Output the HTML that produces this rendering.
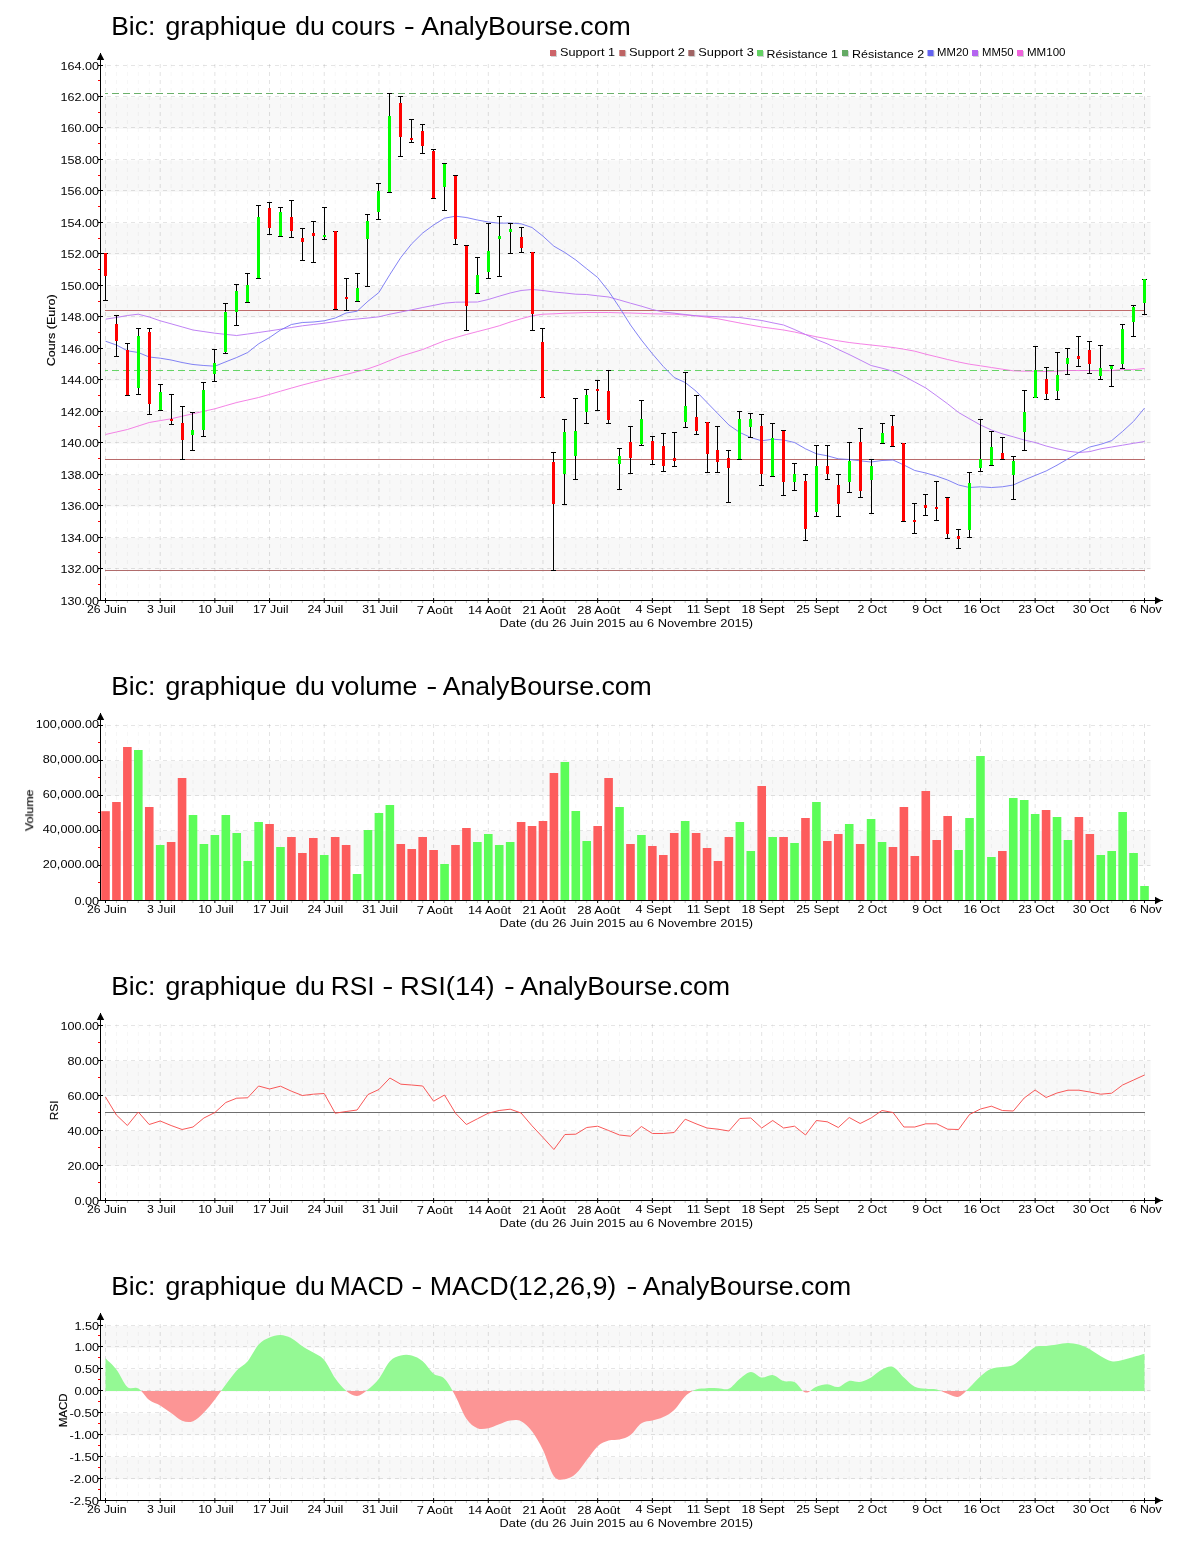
<!DOCTYPE html>
<html><head><meta charset="utf-8"><title>Bic</title><style>html,body{margin:0;padding:0;background:#fff}svg{display:block}text{font-family:"Liberation Sans",sans-serif}</style></head><body>
<svg width="1200" height="1550" viewBox="0 0 1200 1550" font-family="'Liberation Sans', sans-serif" fill="#000">
<rect width="1200" height="1550" fill="#fff"/>
<g opacity="0.999">
<rect x="101" y="538.06" width="1049.5" height="31.47" fill="#f8f8f8"/>
<rect x="101" y="475.12" width="1049.5" height="31.47" fill="#f8f8f8"/>
<rect x="101" y="412.18" width="1049.5" height="31.47" fill="#f8f8f8"/>
<rect x="101" y="349.24" width="1049.5" height="31.47" fill="#f8f8f8"/>
<rect x="101" y="286.29" width="1049.5" height="31.47" fill="#f8f8f8"/>
<rect x="101" y="223.35" width="1049.5" height="31.47" fill="#f8f8f8"/>
<rect x="101" y="160.41" width="1049.5" height="31.47" fill="#f8f8f8"/>
<rect x="101" y="97.47" width="1049.5" height="31.47" fill="#f8f8f8"/>
<line x1="107" y1="65.5" x2="1150.5" y2="65.5" stroke="rgba(0,0,0,0.105)" stroke-dasharray="4 4"/>
<line x1="107" y1="96.5" x2="1150.5" y2="96.5" stroke="rgba(0,0,0,0.105)" stroke-dasharray="4 4"/>
<line x1="107" y1="127.5" x2="1150.5" y2="127.5" stroke="rgba(0,0,0,0.105)" stroke-dasharray="4 4"/>
<line x1="107" y1="159.5" x2="1150.5" y2="159.5" stroke="rgba(0,0,0,0.105)" stroke-dasharray="4 4"/>
<line x1="107" y1="190.5" x2="1150.5" y2="190.5" stroke="rgba(0,0,0,0.105)" stroke-dasharray="4 4"/>
<line x1="107" y1="222.5" x2="1150.5" y2="222.5" stroke="rgba(0,0,0,0.105)" stroke-dasharray="4 4"/>
<line x1="107" y1="253.5" x2="1150.5" y2="253.5" stroke="rgba(0,0,0,0.105)" stroke-dasharray="4 4"/>
<line x1="107" y1="285.5" x2="1150.5" y2="285.5" stroke="rgba(0,0,0,0.105)" stroke-dasharray="4 4"/>
<line x1="107" y1="316.5" x2="1150.5" y2="316.5" stroke="rgba(0,0,0,0.105)" stroke-dasharray="4 4"/>
<line x1="107" y1="348.5" x2="1150.5" y2="348.5" stroke="rgba(0,0,0,0.105)" stroke-dasharray="4 4"/>
<line x1="107" y1="379.5" x2="1150.5" y2="379.5" stroke="rgba(0,0,0,0.105)" stroke-dasharray="4 4"/>
<line x1="107" y1="411.5" x2="1150.5" y2="411.5" stroke="rgba(0,0,0,0.105)" stroke-dasharray="4 4"/>
<line x1="107" y1="442.5" x2="1150.5" y2="442.5" stroke="rgba(0,0,0,0.105)" stroke-dasharray="4 4"/>
<line x1="107" y1="474.5" x2="1150.5" y2="474.5" stroke="rgba(0,0,0,0.105)" stroke-dasharray="4 4"/>
<line x1="107" y1="505.5" x2="1150.5" y2="505.5" stroke="rgba(0,0,0,0.105)" stroke-dasharray="4 4"/>
<line x1="107" y1="537.5" x2="1150.5" y2="537.5" stroke="rgba(0,0,0,0.105)" stroke-dasharray="4 4"/>
<line x1="107" y1="568.5" x2="1150.5" y2="568.5" stroke="rgba(0,0,0,0.105)" stroke-dasharray="4 4"/>
<line x1="105.50" y1="64" x2="105.50" y2="600" stroke="rgba(0,0,0,0.12)" stroke-dasharray="4 4"/>
<line x1="116.44" y1="64" x2="116.44" y2="600" stroke="rgba(0,0,0,0.042)" stroke-dasharray="4 4"/>
<line x1="127.37" y1="64" x2="127.37" y2="600" stroke="rgba(0,0,0,0.042)" stroke-dasharray="4 4"/>
<line x1="138.31" y1="64" x2="138.31" y2="600" stroke="rgba(0,0,0,0.042)" stroke-dasharray="4 4"/>
<line x1="149.25" y1="64" x2="149.25" y2="600" stroke="rgba(0,0,0,0.042)" stroke-dasharray="4 4"/>
<line x1="160.19" y1="64" x2="160.19" y2="600" stroke="rgba(0,0,0,0.12)" stroke-dasharray="4 4"/>
<line x1="171.12" y1="64" x2="171.12" y2="600" stroke="rgba(0,0,0,0.042)" stroke-dasharray="4 4"/>
<line x1="182.06" y1="64" x2="182.06" y2="600" stroke="rgba(0,0,0,0.042)" stroke-dasharray="4 4"/>
<line x1="193.00" y1="64" x2="193.00" y2="600" stroke="rgba(0,0,0,0.042)" stroke-dasharray="4 4"/>
<line x1="203.93" y1="64" x2="203.93" y2="600" stroke="rgba(0,0,0,0.042)" stroke-dasharray="4 4"/>
<line x1="214.87" y1="64" x2="214.87" y2="600" stroke="rgba(0,0,0,0.12)" stroke-dasharray="4 4"/>
<line x1="225.81" y1="64" x2="225.81" y2="600" stroke="rgba(0,0,0,0.042)" stroke-dasharray="4 4"/>
<line x1="236.74" y1="64" x2="236.74" y2="600" stroke="rgba(0,0,0,0.042)" stroke-dasharray="4 4"/>
<line x1="247.68" y1="64" x2="247.68" y2="600" stroke="rgba(0,0,0,0.042)" stroke-dasharray="4 4"/>
<line x1="258.62" y1="64" x2="258.62" y2="600" stroke="rgba(0,0,0,0.042)" stroke-dasharray="4 4"/>
<line x1="269.55" y1="64" x2="269.55" y2="600" stroke="rgba(0,0,0,0.12)" stroke-dasharray="4 4"/>
<line x1="280.49" y1="64" x2="280.49" y2="600" stroke="rgba(0,0,0,0.042)" stroke-dasharray="4 4"/>
<line x1="291.43" y1="64" x2="291.43" y2="600" stroke="rgba(0,0,0,0.042)" stroke-dasharray="4 4"/>
<line x1="302.37" y1="64" x2="302.37" y2="600" stroke="rgba(0,0,0,0.042)" stroke-dasharray="4 4"/>
<line x1="313.30" y1="64" x2="313.30" y2="600" stroke="rgba(0,0,0,0.042)" stroke-dasharray="4 4"/>
<line x1="324.24" y1="64" x2="324.24" y2="600" stroke="rgba(0,0,0,0.12)" stroke-dasharray="4 4"/>
<line x1="335.18" y1="64" x2="335.18" y2="600" stroke="rgba(0,0,0,0.042)" stroke-dasharray="4 4"/>
<line x1="346.11" y1="64" x2="346.11" y2="600" stroke="rgba(0,0,0,0.042)" stroke-dasharray="4 4"/>
<line x1="357.05" y1="64" x2="357.05" y2="600" stroke="rgba(0,0,0,0.042)" stroke-dasharray="4 4"/>
<line x1="367.99" y1="64" x2="367.99" y2="600" stroke="rgba(0,0,0,0.042)" stroke-dasharray="4 4"/>
<line x1="378.93" y1="64" x2="378.93" y2="600" stroke="rgba(0,0,0,0.12)" stroke-dasharray="4 4"/>
<line x1="389.86" y1="64" x2="389.86" y2="600" stroke="rgba(0,0,0,0.042)" stroke-dasharray="4 4"/>
<line x1="400.80" y1="64" x2="400.80" y2="600" stroke="rgba(0,0,0,0.042)" stroke-dasharray="4 4"/>
<line x1="411.74" y1="64" x2="411.74" y2="600" stroke="rgba(0,0,0,0.042)" stroke-dasharray="4 4"/>
<line x1="422.67" y1="64" x2="422.67" y2="600" stroke="rgba(0,0,0,0.042)" stroke-dasharray="4 4"/>
<line x1="433.61" y1="64" x2="433.61" y2="600" stroke="rgba(0,0,0,0.12)" stroke-dasharray="4 4"/>
<line x1="444.55" y1="64" x2="444.55" y2="600" stroke="rgba(0,0,0,0.042)" stroke-dasharray="4 4"/>
<line x1="455.48" y1="64" x2="455.48" y2="600" stroke="rgba(0,0,0,0.042)" stroke-dasharray="4 4"/>
<line x1="466.42" y1="64" x2="466.42" y2="600" stroke="rgba(0,0,0,0.042)" stroke-dasharray="4 4"/>
<line x1="477.36" y1="64" x2="477.36" y2="600" stroke="rgba(0,0,0,0.042)" stroke-dasharray="4 4"/>
<line x1="488.29" y1="64" x2="488.29" y2="600" stroke="rgba(0,0,0,0.12)" stroke-dasharray="4 4"/>
<line x1="499.23" y1="64" x2="499.23" y2="600" stroke="rgba(0,0,0,0.042)" stroke-dasharray="4 4"/>
<line x1="510.17" y1="64" x2="510.17" y2="600" stroke="rgba(0,0,0,0.042)" stroke-dasharray="4 4"/>
<line x1="521.11" y1="64" x2="521.11" y2="600" stroke="rgba(0,0,0,0.042)" stroke-dasharray="4 4"/>
<line x1="532.04" y1="64" x2="532.04" y2="600" stroke="rgba(0,0,0,0.042)" stroke-dasharray="4 4"/>
<line x1="542.98" y1="64" x2="542.98" y2="600" stroke="rgba(0,0,0,0.12)" stroke-dasharray="4 4"/>
<line x1="553.92" y1="64" x2="553.92" y2="600" stroke="rgba(0,0,0,0.042)" stroke-dasharray="4 4"/>
<line x1="564.85" y1="64" x2="564.85" y2="600" stroke="rgba(0,0,0,0.042)" stroke-dasharray="4 4"/>
<line x1="575.79" y1="64" x2="575.79" y2="600" stroke="rgba(0,0,0,0.042)" stroke-dasharray="4 4"/>
<line x1="586.73" y1="64" x2="586.73" y2="600" stroke="rgba(0,0,0,0.042)" stroke-dasharray="4 4"/>
<line x1="597.66" y1="64" x2="597.66" y2="600" stroke="rgba(0,0,0,0.12)" stroke-dasharray="4 4"/>
<line x1="608.60" y1="64" x2="608.60" y2="600" stroke="rgba(0,0,0,0.042)" stroke-dasharray="4 4"/>
<line x1="619.54" y1="64" x2="619.54" y2="600" stroke="rgba(0,0,0,0.042)" stroke-dasharray="4 4"/>
<line x1="630.48" y1="64" x2="630.48" y2="600" stroke="rgba(0,0,0,0.042)" stroke-dasharray="4 4"/>
<line x1="641.41" y1="64" x2="641.41" y2="600" stroke="rgba(0,0,0,0.042)" stroke-dasharray="4 4"/>
<line x1="652.35" y1="64" x2="652.35" y2="600" stroke="rgba(0,0,0,0.12)" stroke-dasharray="4 4"/>
<line x1="663.29" y1="64" x2="663.29" y2="600" stroke="rgba(0,0,0,0.042)" stroke-dasharray="4 4"/>
<line x1="674.22" y1="64" x2="674.22" y2="600" stroke="rgba(0,0,0,0.042)" stroke-dasharray="4 4"/>
<line x1="685.16" y1="64" x2="685.16" y2="600" stroke="rgba(0,0,0,0.042)" stroke-dasharray="4 4"/>
<line x1="696.10" y1="64" x2="696.10" y2="600" stroke="rgba(0,0,0,0.042)" stroke-dasharray="4 4"/>
<line x1="707.03" y1="64" x2="707.03" y2="600" stroke="rgba(0,0,0,0.12)" stroke-dasharray="4 4"/>
<line x1="717.97" y1="64" x2="717.97" y2="600" stroke="rgba(0,0,0,0.042)" stroke-dasharray="4 4"/>
<line x1="728.91" y1="64" x2="728.91" y2="600" stroke="rgba(0,0,0,0.042)" stroke-dasharray="4 4"/>
<line x1="739.85" y1="64" x2="739.85" y2="600" stroke="rgba(0,0,0,0.042)" stroke-dasharray="4 4"/>
<line x1="750.78" y1="64" x2="750.78" y2="600" stroke="rgba(0,0,0,0.042)" stroke-dasharray="4 4"/>
<line x1="761.72" y1="64" x2="761.72" y2="600" stroke="rgba(0,0,0,0.12)" stroke-dasharray="4 4"/>
<line x1="772.66" y1="64" x2="772.66" y2="600" stroke="rgba(0,0,0,0.042)" stroke-dasharray="4 4"/>
<line x1="783.59" y1="64" x2="783.59" y2="600" stroke="rgba(0,0,0,0.042)" stroke-dasharray="4 4"/>
<line x1="794.53" y1="64" x2="794.53" y2="600" stroke="rgba(0,0,0,0.042)" stroke-dasharray="4 4"/>
<line x1="805.47" y1="64" x2="805.47" y2="600" stroke="rgba(0,0,0,0.042)" stroke-dasharray="4 4"/>
<line x1="816.40" y1="64" x2="816.40" y2="600" stroke="rgba(0,0,0,0.12)" stroke-dasharray="4 4"/>
<line x1="827.34" y1="64" x2="827.34" y2="600" stroke="rgba(0,0,0,0.042)" stroke-dasharray="4 4"/>
<line x1="838.28" y1="64" x2="838.28" y2="600" stroke="rgba(0,0,0,0.042)" stroke-dasharray="4 4"/>
<line x1="849.22" y1="64" x2="849.22" y2="600" stroke="rgba(0,0,0,0.042)" stroke-dasharray="4 4"/>
<line x1="860.15" y1="64" x2="860.15" y2="600" stroke="rgba(0,0,0,0.042)" stroke-dasharray="4 4"/>
<line x1="871.09" y1="64" x2="871.09" y2="600" stroke="rgba(0,0,0,0.12)" stroke-dasharray="4 4"/>
<line x1="882.03" y1="64" x2="882.03" y2="600" stroke="rgba(0,0,0,0.042)" stroke-dasharray="4 4"/>
<line x1="892.96" y1="64" x2="892.96" y2="600" stroke="rgba(0,0,0,0.042)" stroke-dasharray="4 4"/>
<line x1="903.90" y1="64" x2="903.90" y2="600" stroke="rgba(0,0,0,0.042)" stroke-dasharray="4 4"/>
<line x1="914.84" y1="64" x2="914.84" y2="600" stroke="rgba(0,0,0,0.042)" stroke-dasharray="4 4"/>
<line x1="925.77" y1="64" x2="925.77" y2="600" stroke="rgba(0,0,0,0.12)" stroke-dasharray="4 4"/>
<line x1="936.71" y1="64" x2="936.71" y2="600" stroke="rgba(0,0,0,0.042)" stroke-dasharray="4 4"/>
<line x1="947.65" y1="64" x2="947.65" y2="600" stroke="rgba(0,0,0,0.042)" stroke-dasharray="4 4"/>
<line x1="958.59" y1="64" x2="958.59" y2="600" stroke="rgba(0,0,0,0.042)" stroke-dasharray="4 4"/>
<line x1="969.52" y1="64" x2="969.52" y2="600" stroke="rgba(0,0,0,0.042)" stroke-dasharray="4 4"/>
<line x1="980.46" y1="64" x2="980.46" y2="600" stroke="rgba(0,0,0,0.12)" stroke-dasharray="4 4"/>
<line x1="991.40" y1="64" x2="991.40" y2="600" stroke="rgba(0,0,0,0.042)" stroke-dasharray="4 4"/>
<line x1="1002.33" y1="64" x2="1002.33" y2="600" stroke="rgba(0,0,0,0.042)" stroke-dasharray="4 4"/>
<line x1="1013.27" y1="64" x2="1013.27" y2="600" stroke="rgba(0,0,0,0.042)" stroke-dasharray="4 4"/>
<line x1="1024.21" y1="64" x2="1024.21" y2="600" stroke="rgba(0,0,0,0.042)" stroke-dasharray="4 4"/>
<line x1="1035.14" y1="64" x2="1035.14" y2="600" stroke="rgba(0,0,0,0.12)" stroke-dasharray="4 4"/>
<line x1="1046.08" y1="64" x2="1046.08" y2="600" stroke="rgba(0,0,0,0.042)" stroke-dasharray="4 4"/>
<line x1="1057.02" y1="64" x2="1057.02" y2="600" stroke="rgba(0,0,0,0.042)" stroke-dasharray="4 4"/>
<line x1="1067.96" y1="64" x2="1067.96" y2="600" stroke="rgba(0,0,0,0.042)" stroke-dasharray="4 4"/>
<line x1="1078.89" y1="64" x2="1078.89" y2="600" stroke="rgba(0,0,0,0.042)" stroke-dasharray="4 4"/>
<line x1="1089.83" y1="64" x2="1089.83" y2="600" stroke="rgba(0,0,0,0.12)" stroke-dasharray="4 4"/>
<line x1="1100.77" y1="64" x2="1100.77" y2="600" stroke="rgba(0,0,0,0.042)" stroke-dasharray="4 4"/>
<line x1="1111.70" y1="64" x2="1111.70" y2="600" stroke="rgba(0,0,0,0.042)" stroke-dasharray="4 4"/>
<line x1="1122.64" y1="64" x2="1122.64" y2="600" stroke="rgba(0,0,0,0.042)" stroke-dasharray="4 4"/>
<line x1="1133.58" y1="64" x2="1133.58" y2="600" stroke="rgba(0,0,0,0.042)" stroke-dasharray="4 4"/>
<line x1="1144.51" y1="64" x2="1144.51" y2="600" stroke="rgba(0,0,0,0.12)" stroke-dasharray="4 4"/>
<line x1="100.5" y1="53" x2="100.5" y2="601" stroke="#000"/>
<path d="M100.5 52.7 L96.8 60 L104.2 60 Z" fill="#000"/>
<line x1="100" y1="600.5" x2="1163" y2="600.5" stroke="#000"/>
<path d="M1162 600.5 L1155 596.8 L1155 604.2 Z" fill="#000"/>
<line x1="98" y1="65.5" x2="103" y2="65.5" stroke="#000"/>
<line x1="98" y1="80.5" x2="100" y2="80.5" stroke="#f00"/>
<text x="99.10" y="69.90" font-size="11.15" text-anchor="end" textLength="38.5" lengthAdjust="spacingAndGlyphs">164.00</text>
<line x1="98" y1="96.5" x2="103" y2="96.5" stroke="#000"/>
<line x1="98" y1="112.5" x2="100" y2="112.5" stroke="#f00"/>
<text x="99.10" y="100.90" font-size="11.15" text-anchor="end" textLength="38.5" lengthAdjust="spacingAndGlyphs">162.00</text>
<line x1="98" y1="127.5" x2="103" y2="127.5" stroke="#000"/>
<line x1="98" y1="143.5" x2="100" y2="143.5" stroke="#f00"/>
<text x="99.10" y="131.90" font-size="11.15" text-anchor="end" textLength="38.5" lengthAdjust="spacingAndGlyphs">160.00</text>
<line x1="98" y1="159.5" x2="103" y2="159.5" stroke="#000"/>
<line x1="98" y1="175.5" x2="100" y2="175.5" stroke="#f00"/>
<text x="99.10" y="163.90" font-size="11.15" text-anchor="end" textLength="38.5" lengthAdjust="spacingAndGlyphs">158.00</text>
<line x1="98" y1="190.5" x2="103" y2="190.5" stroke="#000"/>
<line x1="98" y1="206.5" x2="100" y2="206.5" stroke="#f00"/>
<text x="99.10" y="194.90" font-size="11.15" text-anchor="end" textLength="38.5" lengthAdjust="spacingAndGlyphs">156.00</text>
<line x1="98" y1="222.5" x2="103" y2="222.5" stroke="#000"/>
<line x1="98" y1="238.5" x2="100" y2="238.5" stroke="#f00"/>
<text x="99.10" y="226.90" font-size="11.15" text-anchor="end" textLength="38.5" lengthAdjust="spacingAndGlyphs">154.00</text>
<line x1="98" y1="253.5" x2="103" y2="253.5" stroke="#000"/>
<line x1="98" y1="269.5" x2="100" y2="269.5" stroke="#f00"/>
<text x="99.10" y="257.90" font-size="11.15" text-anchor="end" textLength="38.5" lengthAdjust="spacingAndGlyphs">152.00</text>
<line x1="98" y1="285.5" x2="103" y2="285.5" stroke="#000"/>
<line x1="98" y1="301.5" x2="100" y2="301.5" stroke="#f00"/>
<text x="99.10" y="289.90" font-size="11.15" text-anchor="end" textLength="38.5" lengthAdjust="spacingAndGlyphs">150.00</text>
<line x1="98" y1="316.5" x2="103" y2="316.5" stroke="#000"/>
<line x1="98" y1="332.5" x2="100" y2="332.5" stroke="#f00"/>
<text x="99.10" y="320.90" font-size="11.15" text-anchor="end" textLength="38.5" lengthAdjust="spacingAndGlyphs">148.00</text>
<line x1="98" y1="348.5" x2="103" y2="348.5" stroke="#000"/>
<line x1="98" y1="363.5" x2="100" y2="363.5" stroke="#f00"/>
<text x="99.10" y="352.90" font-size="11.15" text-anchor="end" textLength="38.5" lengthAdjust="spacingAndGlyphs">146.00</text>
<line x1="98" y1="379.5" x2="103" y2="379.5" stroke="#000"/>
<line x1="98" y1="395.5" x2="100" y2="395.5" stroke="#f00"/>
<text x="99.10" y="383.90" font-size="11.15" text-anchor="end" textLength="38.5" lengthAdjust="spacingAndGlyphs">144.00</text>
<line x1="98" y1="411.5" x2="103" y2="411.5" stroke="#000"/>
<line x1="98" y1="426.5" x2="100" y2="426.5" stroke="#f00"/>
<text x="99.10" y="415.90" font-size="11.15" text-anchor="end" textLength="38.5" lengthAdjust="spacingAndGlyphs">142.00</text>
<line x1="98" y1="442.5" x2="103" y2="442.5" stroke="#000"/>
<line x1="98" y1="458.5" x2="100" y2="458.5" stroke="#f00"/>
<text x="99.10" y="446.90" font-size="11.15" text-anchor="end" textLength="38.5" lengthAdjust="spacingAndGlyphs">140.00</text>
<line x1="98" y1="474.5" x2="103" y2="474.5" stroke="#000"/>
<line x1="98" y1="489.5" x2="100" y2="489.5" stroke="#f00"/>
<text x="99.10" y="478.90" font-size="11.15" text-anchor="end" textLength="38.5" lengthAdjust="spacingAndGlyphs">138.00</text>
<line x1="98" y1="505.5" x2="103" y2="505.5" stroke="#000"/>
<line x1="98" y1="521.5" x2="100" y2="521.5" stroke="#f00"/>
<text x="99.10" y="509.90" font-size="11.15" text-anchor="end" textLength="38.5" lengthAdjust="spacingAndGlyphs">136.00</text>
<line x1="98" y1="537.5" x2="103" y2="537.5" stroke="#000"/>
<line x1="98" y1="552.5" x2="100" y2="552.5" stroke="#f00"/>
<text x="99.10" y="541.90" font-size="11.15" text-anchor="end" textLength="38.5" lengthAdjust="spacingAndGlyphs">134.00</text>
<line x1="98" y1="568.5" x2="103" y2="568.5" stroke="#000"/>
<line x1="98" y1="584.5" x2="100" y2="584.5" stroke="#f00"/>
<text x="99.10" y="572.90" font-size="11.15" text-anchor="end" textLength="38.5" lengthAdjust="spacingAndGlyphs">132.00</text>
<line x1="98" y1="600.5" x2="103" y2="600.5" stroke="#000"/>
<text x="99.10" y="604.90" font-size="11.15" text-anchor="end" textLength="38.5" lengthAdjust="spacingAndGlyphs">130.00</text>
<line x1="105.50" y1="598" x2="105.50" y2="603" stroke="#000"/>
<text x="106.70" y="613.40" font-size="11.15" text-anchor="middle" textLength="39.6" lengthAdjust="spacingAndGlyphs">26 Juin</text>
<line x1="116.44" y1="601" x2="116.44" y2="603" stroke="#bbb"/>
<line x1="127.37" y1="601" x2="127.37" y2="603" stroke="#bbb"/>
<line x1="138.31" y1="601" x2="138.31" y2="603" stroke="#bbb"/>
<line x1="149.25" y1="601" x2="149.25" y2="603" stroke="#bbb"/>
<line x1="160.19" y1="598" x2="160.19" y2="603" stroke="#000"/>
<text x="161.38" y="613.40" font-size="11.15" text-anchor="middle" textLength="28.7" lengthAdjust="spacingAndGlyphs">3 Juil</text>
<line x1="171.12" y1="601" x2="171.12" y2="603" stroke="#bbb"/>
<line x1="182.06" y1="601" x2="182.06" y2="603" stroke="#bbb"/>
<line x1="193.00" y1="601" x2="193.00" y2="603" stroke="#bbb"/>
<line x1="203.93" y1="601" x2="203.93" y2="603" stroke="#bbb"/>
<line x1="214.87" y1="598" x2="214.87" y2="603" stroke="#000"/>
<text x="216.07" y="613.40" font-size="11.15" text-anchor="middle" textLength="35.6" lengthAdjust="spacingAndGlyphs">10 Juil</text>
<line x1="225.81" y1="601" x2="225.81" y2="603" stroke="#bbb"/>
<line x1="236.74" y1="601" x2="236.74" y2="603" stroke="#bbb"/>
<line x1="247.68" y1="601" x2="247.68" y2="603" stroke="#bbb"/>
<line x1="258.62" y1="601" x2="258.62" y2="603" stroke="#bbb"/>
<line x1="269.55" y1="598" x2="269.55" y2="603" stroke="#000"/>
<text x="270.75" y="613.40" font-size="11.15" text-anchor="middle" textLength="35.6" lengthAdjust="spacingAndGlyphs">17 Juil</text>
<line x1="280.49" y1="601" x2="280.49" y2="603" stroke="#bbb"/>
<line x1="291.43" y1="601" x2="291.43" y2="603" stroke="#bbb"/>
<line x1="302.37" y1="601" x2="302.37" y2="603" stroke="#bbb"/>
<line x1="313.30" y1="601" x2="313.30" y2="603" stroke="#bbb"/>
<line x1="324.24" y1="598" x2="324.24" y2="603" stroke="#000"/>
<text x="325.44" y="613.40" font-size="11.15" text-anchor="middle" textLength="35.6" lengthAdjust="spacingAndGlyphs">24 Juil</text>
<line x1="335.18" y1="601" x2="335.18" y2="603" stroke="#bbb"/>
<line x1="346.11" y1="601" x2="346.11" y2="603" stroke="#bbb"/>
<line x1="357.05" y1="601" x2="357.05" y2="603" stroke="#bbb"/>
<line x1="367.99" y1="601" x2="367.99" y2="603" stroke="#bbb"/>
<line x1="378.93" y1="598" x2="378.93" y2="603" stroke="#000"/>
<text x="380.12" y="613.40" font-size="11.15" text-anchor="middle" textLength="35.6" lengthAdjust="spacingAndGlyphs">31 Juil</text>
<line x1="389.86" y1="601" x2="389.86" y2="603" stroke="#bbb"/>
<line x1="400.80" y1="601" x2="400.80" y2="603" stroke="#bbb"/>
<line x1="411.74" y1="601" x2="411.74" y2="603" stroke="#bbb"/>
<line x1="422.67" y1="601" x2="422.67" y2="603" stroke="#bbb"/>
<line x1="433.61" y1="598" x2="433.61" y2="603" stroke="#000"/>
<text x="434.81" y="614.30" font-size="11.15" text-anchor="middle" textLength="36.1" lengthAdjust="spacingAndGlyphs">7 Août</text>
<line x1="444.55" y1="601" x2="444.55" y2="603" stroke="#bbb"/>
<line x1="455.48" y1="601" x2="455.48" y2="603" stroke="#bbb"/>
<line x1="466.42" y1="601" x2="466.42" y2="603" stroke="#bbb"/>
<line x1="477.36" y1="601" x2="477.36" y2="603" stroke="#bbb"/>
<line x1="488.29" y1="598" x2="488.29" y2="603" stroke="#000"/>
<text x="489.49" y="614.30" font-size="11.15" text-anchor="middle" textLength="43.1" lengthAdjust="spacingAndGlyphs">14 Août</text>
<line x1="499.23" y1="601" x2="499.23" y2="603" stroke="#bbb"/>
<line x1="510.17" y1="601" x2="510.17" y2="603" stroke="#bbb"/>
<line x1="521.11" y1="601" x2="521.11" y2="603" stroke="#bbb"/>
<line x1="532.04" y1="601" x2="532.04" y2="603" stroke="#bbb"/>
<line x1="542.98" y1="598" x2="542.98" y2="603" stroke="#000"/>
<text x="544.18" y="614.30" font-size="11.15" text-anchor="middle" textLength="43.1" lengthAdjust="spacingAndGlyphs">21 Août</text>
<line x1="553.92" y1="601" x2="553.92" y2="603" stroke="#bbb"/>
<line x1="564.85" y1="601" x2="564.85" y2="603" stroke="#bbb"/>
<line x1="575.79" y1="601" x2="575.79" y2="603" stroke="#bbb"/>
<line x1="586.73" y1="601" x2="586.73" y2="603" stroke="#bbb"/>
<line x1="597.66" y1="598" x2="597.66" y2="603" stroke="#000"/>
<text x="598.87" y="614.30" font-size="11.15" text-anchor="middle" textLength="43.1" lengthAdjust="spacingAndGlyphs">28 Août</text>
<line x1="608.60" y1="601" x2="608.60" y2="603" stroke="#bbb"/>
<line x1="619.54" y1="601" x2="619.54" y2="603" stroke="#bbb"/>
<line x1="630.48" y1="601" x2="630.48" y2="603" stroke="#bbb"/>
<line x1="641.41" y1="601" x2="641.41" y2="603" stroke="#bbb"/>
<line x1="652.35" y1="598" x2="652.35" y2="603" stroke="#000"/>
<text x="653.55" y="613.40" font-size="11.15" text-anchor="middle" textLength="35.9" lengthAdjust="spacingAndGlyphs">4 Sept</text>
<line x1="663.29" y1="601" x2="663.29" y2="603" stroke="#bbb"/>
<line x1="674.22" y1="601" x2="674.22" y2="603" stroke="#bbb"/>
<line x1="685.16" y1="601" x2="685.16" y2="603" stroke="#bbb"/>
<line x1="696.10" y1="601" x2="696.10" y2="603" stroke="#bbb"/>
<line x1="707.03" y1="598" x2="707.03" y2="603" stroke="#000"/>
<text x="708.24" y="613.40" font-size="11.15" text-anchor="middle" textLength="42.9" lengthAdjust="spacingAndGlyphs">11 Sept</text>
<line x1="717.97" y1="601" x2="717.97" y2="603" stroke="#bbb"/>
<line x1="728.91" y1="601" x2="728.91" y2="603" stroke="#bbb"/>
<line x1="739.85" y1="601" x2="739.85" y2="603" stroke="#bbb"/>
<line x1="750.78" y1="601" x2="750.78" y2="603" stroke="#bbb"/>
<line x1="761.72" y1="598" x2="761.72" y2="603" stroke="#000"/>
<text x="762.92" y="613.40" font-size="11.15" text-anchor="middle" textLength="42.9" lengthAdjust="spacingAndGlyphs">18 Sept</text>
<line x1="772.66" y1="601" x2="772.66" y2="603" stroke="#bbb"/>
<line x1="783.59" y1="601" x2="783.59" y2="603" stroke="#bbb"/>
<line x1="794.53" y1="601" x2="794.53" y2="603" stroke="#bbb"/>
<line x1="805.47" y1="601" x2="805.47" y2="603" stroke="#bbb"/>
<line x1="816.40" y1="598" x2="816.40" y2="603" stroke="#000"/>
<text x="817.61" y="613.40" font-size="11.15" text-anchor="middle" textLength="42.9" lengthAdjust="spacingAndGlyphs">25 Sept</text>
<line x1="827.34" y1="601" x2="827.34" y2="603" stroke="#bbb"/>
<line x1="838.28" y1="601" x2="838.28" y2="603" stroke="#bbb"/>
<line x1="849.22" y1="601" x2="849.22" y2="603" stroke="#bbb"/>
<line x1="860.15" y1="601" x2="860.15" y2="603" stroke="#bbb"/>
<line x1="871.09" y1="598" x2="871.09" y2="603" stroke="#000"/>
<text x="872.29" y="613.40" font-size="11.15" text-anchor="middle" textLength="29.4" lengthAdjust="spacingAndGlyphs">2 Oct</text>
<line x1="882.03" y1="601" x2="882.03" y2="603" stroke="#bbb"/>
<line x1="892.96" y1="601" x2="892.96" y2="603" stroke="#bbb"/>
<line x1="903.90" y1="601" x2="903.90" y2="603" stroke="#bbb"/>
<line x1="914.84" y1="601" x2="914.84" y2="603" stroke="#bbb"/>
<line x1="925.77" y1="598" x2="925.77" y2="603" stroke="#000"/>
<text x="926.98" y="613.40" font-size="11.15" text-anchor="middle" textLength="29.4" lengthAdjust="spacingAndGlyphs">9 Oct</text>
<line x1="936.71" y1="601" x2="936.71" y2="603" stroke="#bbb"/>
<line x1="947.65" y1="601" x2="947.65" y2="603" stroke="#bbb"/>
<line x1="958.59" y1="601" x2="958.59" y2="603" stroke="#bbb"/>
<line x1="969.52" y1="601" x2="969.52" y2="603" stroke="#bbb"/>
<line x1="980.46" y1="598" x2="980.46" y2="603" stroke="#000"/>
<text x="981.66" y="613.40" font-size="11.15" text-anchor="middle" textLength="36.4" lengthAdjust="spacingAndGlyphs">16 Oct</text>
<line x1="991.40" y1="601" x2="991.40" y2="603" stroke="#bbb"/>
<line x1="1002.33" y1="601" x2="1002.33" y2="603" stroke="#bbb"/>
<line x1="1013.27" y1="601" x2="1013.27" y2="603" stroke="#bbb"/>
<line x1="1024.21" y1="601" x2="1024.21" y2="603" stroke="#bbb"/>
<line x1="1035.14" y1="598" x2="1035.14" y2="603" stroke="#000"/>
<text x="1036.35" y="613.40" font-size="11.15" text-anchor="middle" textLength="36.4" lengthAdjust="spacingAndGlyphs">23 Oct</text>
<line x1="1046.08" y1="601" x2="1046.08" y2="603" stroke="#bbb"/>
<line x1="1057.02" y1="601" x2="1057.02" y2="603" stroke="#bbb"/>
<line x1="1067.96" y1="601" x2="1067.96" y2="603" stroke="#bbb"/>
<line x1="1078.89" y1="601" x2="1078.89" y2="603" stroke="#bbb"/>
<line x1="1089.83" y1="598" x2="1089.83" y2="603" stroke="#000"/>
<text x="1091.03" y="613.40" font-size="11.15" text-anchor="middle" textLength="36.4" lengthAdjust="spacingAndGlyphs">30 Oct</text>
<line x1="1100.77" y1="601" x2="1100.77" y2="603" stroke="#bbb"/>
<line x1="1111.70" y1="601" x2="1111.70" y2="603" stroke="#bbb"/>
<line x1="1122.64" y1="601" x2="1122.64" y2="603" stroke="#bbb"/>
<line x1="1133.58" y1="601" x2="1133.58" y2="603" stroke="#bbb"/>
<line x1="1144.51" y1="598" x2="1144.51" y2="603" stroke="#000"/>
<text x="1145.71" y="613.40" font-size="11.15" text-anchor="middle" textLength="32.1" lengthAdjust="spacingAndGlyphs">6 Nov</text>
<text x="626.30" y="626.70" font-size="11.1" text-anchor="middle" textLength="253.5" lengthAdjust="spacingAndGlyphs">Date (du 26 Juin 2015 au 6 Novembre 2015)</text>
<text transform="translate(55.3,330.3) rotate(-90)" font-size="11.15" text-anchor="middle" textLength="72" lengthAdjust="spacingAndGlyphs" stroke="#000" stroke-width="0.15">Cours (Euro)</text>
<text x="111.2" y="35" font-size="25.5" textLength="44.1" lengthAdjust="spacingAndGlyphs">Bic:</text>
<text x="165.2" y="35" font-size="25.5" textLength="121.1" lengthAdjust="spacingAndGlyphs">graphique</text>
<text x="295.2" y="35" font-size="25.5" textLength="29.6" lengthAdjust="spacingAndGlyphs">du</text>
<text x="331.2" y="35" font-size="25.5" textLength="64.1" lengthAdjust="spacingAndGlyphs">cours</text>
<text x="403.7" y="35" font-size="25.5" textLength="11.1" lengthAdjust="spacingAndGlyphs">-</text>
<text x="421.2" y="35" font-size="25.5" textLength="209.6" lengthAdjust="spacingAndGlyphs">AnalyBourse.com</text>
<line x1="105" y1="93.5" x2="1145" y2="93.5" stroke="#6bb06b" stroke-dasharray="7 4" stroke-dashoffset="4"/>
<line x1="105" y1="370.5" x2="1145" y2="370.5" stroke="#66d466" stroke-dasharray="7 4" stroke-dashoffset="4"/>
<line x1="105" y1="310.5" x2="1145" y2="310.5" stroke="#c06a6a"/>
<line x1="105" y1="459.5" x2="1145" y2="459.5" stroke="#b96b6b"/>
<line x1="105" y1="570.5" x2="1145" y2="570.5" stroke="#b06c6c"/>
<polyline points="105.5,434.5 116.4,432.0 127.4,429.5 138.3,426.0 149.2,422.5 160.2,420.6 171.1,418.8 182.1,416.2 193.0,413.8 203.9,411.2 214.9,408.8 225.8,405.6 236.7,402.5 247.7,400.0 258.6,397.5 269.6,394.4 280.5,391.2 291.4,388.1 302.4,385.0 313.3,382.2 324.2,379.5 335.2,377.0 346.1,374.5 357.1,371.6 368.0,368.8 378.9,365.0 389.9,360.5 400.8,356.2 411.7,352.9 422.7,349.5 433.6,345.1 444.5,340.8 455.5,337.6 466.4,334.5 477.4,331.6 488.3,328.8 499.2,325.8 510.2,322.0 521.1,318.8 532.0,315.8 543.0,314.2 553.9,313.8 564.9,313.2 575.8,312.9 586.7,312.5 597.7,312.5 608.6,312.5 619.5,312.8 630.5,313.0 641.4,313.4 652.4,313.8 663.3,314.0 674.2,314.2 685.2,315.0 696.1,315.8 707.0,317.2 718.0,318.8 728.9,320.9 739.8,323.0 750.8,325.0 761.7,327.0 772.7,328.5 783.6,330.0 794.5,332.0 805.5,334.5 816.4,336.8 827.3,338.8 838.3,340.8 849.2,342.5 860.2,343.8 871.1,345.0 882.0,346.2 893.0,347.5 903.9,349.2 914.8,351.2 925.8,354.2 936.7,356.8 947.6,359.5 958.6,362.0 969.5,364.2 980.5,365.8 991.4,367.5 1002.3,369.2 1013.3,370.8 1024.2,371.2 1035.1,371.2 1046.1,371.5 1057.0,371.2 1068.0,370.5 1078.9,370.5 1089.8,370.5 1100.8,370.6 1111.7,370.6 1122.6,369.6 1133.6,369.6 1144.5,368.5" fill="none" stroke="#f374e2" stroke-width="0.9" stroke-linejoin="round"/>
<polyline points="105.5,319.2 116.4,317.5 127.4,315.5 138.3,314.2 149.2,317.0 160.2,320.8 171.1,323.8 182.1,326.9 193.0,330.0 203.9,331.6 214.9,333.2 225.8,334.4 236.7,335.5 247.7,334.0 258.6,332.5 269.6,330.9 280.5,329.2 291.4,327.5 302.4,325.8 313.3,324.5 324.2,323.2 335.2,321.6 346.1,320.0 357.1,319.0 368.0,318.0 378.9,316.8 389.9,314.2 400.8,312.0 411.7,309.8 422.7,307.5 433.6,305.4 444.5,303.2 455.5,302.2 466.4,302.1 477.4,302.0 488.3,299.5 499.2,296.2 510.2,293.0 521.1,290.5 532.0,289.5 543.0,290.5 553.9,292.0 564.9,293.0 575.8,294.2 586.7,294.5 597.7,295.8 608.6,297.0 619.5,300.0 630.5,303.2 641.4,306.2 652.4,309.5 663.3,312.0 674.2,313.2 685.2,314.5 696.1,315.8 707.0,316.2 718.0,316.8 728.9,317.1 739.8,317.5 750.8,319.0 761.7,320.5 772.7,322.8 783.6,325.0 794.5,329.5 805.5,334.5 816.4,339.5 827.3,343.8 838.3,349.5 849.2,354.5 860.2,360.0 871.1,365.5 882.0,368.2 893.0,371.2 903.9,376.2 914.8,382.0 925.8,388.0 936.7,395.8 947.6,403.8 958.6,412.5 969.5,418.8 980.5,425.0 991.4,430.0 1002.3,433.8 1013.3,436.8 1024.2,440.0 1035.1,442.5 1046.1,446.0 1057.0,448.8 1068.0,451.2 1078.9,452.5 1089.8,451.6 1100.8,448.8 1111.7,447.0 1122.6,445.2 1133.6,443.3 1144.5,441.5" fill="none" stroke="#b874f3" stroke-width="0.9" stroke-linejoin="round"/>
<polyline points="105.5,341.2 116.4,345.0 127.4,350.8 138.3,352.5 149.2,357.0 160.2,358.2 171.1,360.0 182.1,362.5 193.0,364.5 203.9,365.5 214.9,366.2 225.8,361.8 236.7,357.5 247.7,352.5 258.6,343.8 269.6,337.5 280.5,330.0 291.4,324.5 302.4,322.5 313.3,322.0 324.2,320.8 335.2,318.0 346.1,313.0 357.1,311.2 368.0,301.2 378.9,292.5 389.9,274.5 400.8,257.5 411.7,243.8 422.7,233.0 433.6,225.0 444.5,218.2 455.5,216.2 466.4,217.5 477.4,220.0 488.3,222.0 499.2,223.2 510.2,223.0 521.1,223.8 532.0,227.5 543.0,236.2 553.9,246.2 564.9,252.5 575.8,260.0 586.7,268.8 597.7,277.5 608.6,291.2 619.5,307.5 630.5,325.0 641.4,340.0 652.4,353.8 663.3,366.5 674.2,377.5 685.2,382.5 696.1,391.2 707.0,402.5 718.0,413.8 728.9,425.0 739.8,432.5 750.8,437.5 761.7,440.8 772.7,439.2 783.6,440.0 794.5,442.5 805.5,448.8 816.4,453.8 827.3,455.8 838.3,458.8 849.2,459.5 860.2,460.8 871.1,462.0 882.0,460.5 893.0,460.0 903.9,465.0 914.8,470.5 925.8,473.0 936.7,476.2 947.6,480.0 958.6,485.0 969.5,487.5 980.5,486.8 991.4,487.5 1002.3,486.8 1013.3,485.0 1024.2,480.0 1035.1,475.5 1046.1,471.0 1057.0,465.2 1068.0,458.8 1078.9,452.5 1089.8,447.0 1100.8,444.3 1111.7,440.6 1122.6,431.4 1133.6,421.3 1144.5,408.1" fill="none" stroke="#7474f3" stroke-width="0.9" stroke-linejoin="round"/>
<g shape-rendering="crispEdges"><rect x="105" y="253" width="1" height="48" fill="#000"/><rect x="103" y="253" width="5" height="1" fill="#000"/><rect x="103" y="300" width="5" height="1" fill="#000"/><rect x="104" y="253" width="3" height="23" fill="#f00"/><rect x="116" y="315" width="1" height="42" fill="#000"/><rect x="114" y="315" width="5" height="1" fill="#000"/><rect x="114" y="356" width="5" height="1" fill="#000"/><rect x="115" y="324" width="3" height="17" fill="#f00"/><rect x="127" y="343" width="1" height="53" fill="#000"/><rect x="125" y="343" width="5" height="1" fill="#000"/><rect x="125" y="395" width="5" height="1" fill="#000"/><rect x="126" y="350" width="3" height="45" fill="#f00"/><rect x="138" y="328" width="1" height="67" fill="#000"/><rect x="136" y="328" width="5" height="1" fill="#000"/><rect x="136" y="394" width="5" height="1" fill="#000"/><rect x="137" y="336" width="3" height="52" fill="#0f0"/><rect x="149" y="328" width="1" height="87" fill="#000"/><rect x="147" y="328" width="5" height="1" fill="#000"/><rect x="147" y="414" width="5" height="1" fill="#000"/><rect x="148" y="332" width="3" height="72" fill="#f00"/><rect x="160" y="384" width="1" height="27" fill="#000"/><rect x="158" y="384" width="5" height="1" fill="#000"/><rect x="158" y="410" width="5" height="1" fill="#000"/><rect x="159" y="392" width="3" height="18" fill="#0f0"/><rect x="171" y="394" width="1" height="31" fill="#000"/><rect x="169" y="394" width="5" height="1" fill="#000"/><rect x="169" y="424" width="5" height="1" fill="#000"/><rect x="170" y="419" width="3" height="2" fill="#f00"/><rect x="182" y="406" width="1" height="54" fill="#000"/><rect x="180" y="406" width="5" height="1" fill="#000"/><rect x="180" y="459" width="5" height="1" fill="#000"/><rect x="181" y="423" width="3" height="17" fill="#f00"/><rect x="192" y="412" width="1" height="39" fill="#000"/><rect x="190" y="412" width="5" height="1" fill="#000"/><rect x="190" y="450" width="5" height="1" fill="#000"/><rect x="191" y="430" width="3" height="5" fill="#0f0"/><rect x="203" y="382" width="1" height="55" fill="#000"/><rect x="201" y="382" width="5" height="1" fill="#000"/><rect x="201" y="436" width="5" height="1" fill="#000"/><rect x="202" y="390" width="3" height="40" fill="#0f0"/><rect x="214" y="349" width="1" height="33" fill="#000"/><rect x="212" y="349" width="5" height="1" fill="#000"/><rect x="212" y="381" width="5" height="1" fill="#000"/><rect x="213" y="363" width="3" height="11" fill="#0f0"/><rect x="225" y="303" width="1" height="51" fill="#000"/><rect x="223" y="303" width="5" height="1" fill="#000"/><rect x="223" y="353" width="5" height="1" fill="#000"/><rect x="224" y="312" width="3" height="40" fill="#0f0"/><rect x="236" y="284" width="1" height="42" fill="#000"/><rect x="234" y="284" width="5" height="1" fill="#000"/><rect x="234" y="325" width="5" height="1" fill="#000"/><rect x="235" y="291" width="3" height="21" fill="#0f0"/><rect x="247" y="273" width="1" height="30" fill="#000"/><rect x="245" y="273" width="5" height="1" fill="#000"/><rect x="245" y="302" width="5" height="1" fill="#000"/><rect x="246" y="285" width="3" height="17" fill="#0f0"/><rect x="258" y="205" width="1" height="74" fill="#000"/><rect x="256" y="205" width="5" height="1" fill="#000"/><rect x="256" y="278" width="5" height="1" fill="#000"/><rect x="257" y="217" width="3" height="61" fill="#0f0"/><rect x="269" y="202" width="1" height="33" fill="#000"/><rect x="267" y="202" width="5" height="1" fill="#000"/><rect x="267" y="234" width="5" height="1" fill="#000"/><rect x="268" y="208" width="3" height="20" fill="#f00"/><rect x="280" y="207" width="1" height="30" fill="#000"/><rect x="278" y="207" width="5" height="1" fill="#000"/><rect x="278" y="236" width="5" height="1" fill="#000"/><rect x="279" y="212" width="3" height="24" fill="#0f0"/><rect x="291" y="200" width="1" height="38" fill="#000"/><rect x="289" y="200" width="5" height="1" fill="#000"/><rect x="289" y="237" width="5" height="1" fill="#000"/><rect x="290" y="217" width="3" height="14" fill="#f00"/><rect x="302" y="228" width="1" height="33" fill="#000"/><rect x="300" y="228" width="5" height="1" fill="#000"/><rect x="300" y="260" width="5" height="1" fill="#000"/><rect x="301" y="238" width="3" height="4" fill="#f00"/><rect x="313" y="221" width="1" height="42" fill="#000"/><rect x="311" y="221" width="5" height="1" fill="#000"/><rect x="311" y="262" width="5" height="1" fill="#000"/><rect x="312" y="233" width="3" height="3" fill="#f00"/><rect x="324" y="207" width="1" height="33" fill="#000"/><rect x="322" y="207" width="5" height="1" fill="#000"/><rect x="322" y="239" width="5" height="1" fill="#000"/><rect x="323" y="235" width="3" height="2" fill="#0f0"/><rect x="335" y="231" width="1" height="79" fill="#000"/><rect x="333" y="231" width="5" height="1" fill="#000"/><rect x="333" y="309" width="5" height="1" fill="#000"/><rect x="334" y="231" width="3" height="78" fill="#f00"/><rect x="346" y="278" width="1" height="33" fill="#000"/><rect x="344" y="278" width="5" height="1" fill="#000"/><rect x="344" y="310" width="5" height="1" fill="#000"/><rect x="345" y="297" width="3" height="2" fill="#f00"/><rect x="357" y="273" width="1" height="29" fill="#000"/><rect x="355" y="273" width="5" height="1" fill="#000"/><rect x="355" y="301" width="5" height="1" fill="#000"/><rect x="356" y="288" width="3" height="13" fill="#0f0"/><rect x="367" y="214" width="1" height="73" fill="#000"/><rect x="365" y="214" width="5" height="1" fill="#000"/><rect x="365" y="286" width="5" height="1" fill="#000"/><rect x="366" y="221" width="3" height="18" fill="#0f0"/><rect x="378" y="183" width="1" height="37" fill="#000"/><rect x="376" y="183" width="5" height="1" fill="#000"/><rect x="376" y="219" width="5" height="1" fill="#000"/><rect x="377" y="191" width="3" height="21" fill="#0f0"/><rect x="389" y="93" width="1" height="100" fill="#000"/><rect x="387" y="93" width="5" height="1" fill="#000"/><rect x="387" y="192" width="5" height="1" fill="#000"/><rect x="388" y="116" width="3" height="76" fill="#0f0"/><rect x="400" y="96" width="1" height="61" fill="#000"/><rect x="398" y="96" width="5" height="1" fill="#000"/><rect x="398" y="156" width="5" height="1" fill="#000"/><rect x="399" y="103" width="3" height="34" fill="#f00"/><rect x="411" y="119" width="1" height="24" fill="#000"/><rect x="409" y="119" width="5" height="1" fill="#000"/><rect x="409" y="142" width="5" height="1" fill="#000"/><rect x="410" y="138" width="3" height="2" fill="#f00"/><rect x="422" y="124" width="1" height="30" fill="#000"/><rect x="420" y="124" width="5" height="1" fill="#000"/><rect x="420" y="153" width="5" height="1" fill="#000"/><rect x="421" y="131" width="3" height="15" fill="#f00"/><rect x="433" y="149" width="1" height="50" fill="#000"/><rect x="431" y="149" width="5" height="1" fill="#000"/><rect x="431" y="198" width="5" height="1" fill="#000"/><rect x="432" y="151" width="3" height="47" fill="#f00"/><rect x="444" y="163" width="1" height="48" fill="#000"/><rect x="442" y="163" width="5" height="1" fill="#000"/><rect x="442" y="210" width="5" height="1" fill="#000"/><rect x="443" y="164" width="3" height="23" fill="#0f0"/><rect x="455" y="175" width="1" height="70" fill="#000"/><rect x="453" y="175" width="5" height="1" fill="#000"/><rect x="453" y="244" width="5" height="1" fill="#000"/><rect x="454" y="176" width="3" height="63" fill="#f00"/><rect x="466" y="245" width="1" height="86" fill="#000"/><rect x="464" y="245" width="5" height="1" fill="#000"/><rect x="464" y="330" width="5" height="1" fill="#000"/><rect x="465" y="246" width="3" height="60" fill="#f00"/><rect x="477" y="257" width="1" height="37" fill="#000"/><rect x="475" y="257" width="5" height="1" fill="#000"/><rect x="475" y="293" width="5" height="1" fill="#000"/><rect x="476" y="275" width="3" height="18" fill="#0f0"/><rect x="488" y="223" width="1" height="56" fill="#000"/><rect x="486" y="223" width="5" height="1" fill="#000"/><rect x="486" y="278" width="5" height="1" fill="#000"/><rect x="487" y="251" width="3" height="21" fill="#0f0"/><rect x="499" y="216" width="1" height="61" fill="#000"/><rect x="497" y="216" width="5" height="1" fill="#000"/><rect x="497" y="276" width="5" height="1" fill="#000"/><rect x="498" y="236" width="3" height="3" fill="#0f0"/><rect x="510" y="223" width="1" height="31" fill="#000"/><rect x="508" y="223" width="5" height="1" fill="#000"/><rect x="508" y="253" width="5" height="1" fill="#000"/><rect x="509" y="229" width="3" height="3" fill="#0f0"/><rect x="521" y="227" width="1" height="26" fill="#000"/><rect x="519" y="227" width="5" height="1" fill="#000"/><rect x="519" y="252" width="5" height="1" fill="#000"/><rect x="520" y="237" width="3" height="11" fill="#f00"/><rect x="532" y="252" width="1" height="79" fill="#000"/><rect x="530" y="252" width="5" height="1" fill="#000"/><rect x="530" y="330" width="5" height="1" fill="#000"/><rect x="531" y="252" width="3" height="62" fill="#f00"/><rect x="542" y="328" width="1" height="70" fill="#000"/><rect x="540" y="328" width="5" height="1" fill="#000"/><rect x="540" y="397" width="5" height="1" fill="#000"/><rect x="541" y="342" width="3" height="56" fill="#f00"/><rect x="553" y="452" width="1" height="119" fill="#000"/><rect x="551" y="452" width="5" height="1" fill="#000"/><rect x="551" y="570" width="5" height="1" fill="#000"/><rect x="552" y="462" width="3" height="42" fill="#f00"/><rect x="564" y="419" width="1" height="86" fill="#000"/><rect x="562" y="419" width="5" height="1" fill="#000"/><rect x="562" y="504" width="5" height="1" fill="#000"/><rect x="563" y="432" width="3" height="42" fill="#0f0"/><rect x="575" y="398" width="1" height="82" fill="#000"/><rect x="573" y="398" width="5" height="1" fill="#000"/><rect x="573" y="479" width="5" height="1" fill="#000"/><rect x="574" y="431" width="3" height="25" fill="#0f0"/><rect x="586" y="389" width="1" height="35" fill="#000"/><rect x="584" y="389" width="5" height="1" fill="#000"/><rect x="584" y="423" width="5" height="1" fill="#000"/><rect x="585" y="395" width="3" height="17" fill="#0f0"/><rect x="597" y="380" width="1" height="31" fill="#000"/><rect x="595" y="380" width="5" height="1" fill="#000"/><rect x="595" y="410" width="5" height="1" fill="#000"/><rect x="596" y="389" width="3" height="2" fill="#f00"/><rect x="608" y="370" width="1" height="54" fill="#000"/><rect x="606" y="370" width="5" height="1" fill="#000"/><rect x="606" y="423" width="5" height="1" fill="#000"/><rect x="607" y="391" width="3" height="29" fill="#f00"/><rect x="619" y="448" width="1" height="42" fill="#000"/><rect x="617" y="448" width="5" height="1" fill="#000"/><rect x="617" y="489" width="5" height="1" fill="#000"/><rect x="618" y="456" width="3" height="8" fill="#0f0"/><rect x="630" y="426" width="1" height="48" fill="#000"/><rect x="628" y="426" width="5" height="1" fill="#000"/><rect x="628" y="473" width="5" height="1" fill="#000"/><rect x="629" y="442" width="3" height="16" fill="#f00"/><rect x="641" y="400" width="1" height="46" fill="#000"/><rect x="639" y="400" width="5" height="1" fill="#000"/><rect x="639" y="445" width="5" height="1" fill="#000"/><rect x="640" y="419" width="3" height="25" fill="#0f0"/><rect x="652" y="436" width="1" height="29" fill="#000"/><rect x="650" y="436" width="5" height="1" fill="#000"/><rect x="650" y="464" width="5" height="1" fill="#000"/><rect x="651" y="441" width="3" height="19" fill="#f00"/><rect x="663" y="433" width="1" height="39" fill="#000"/><rect x="661" y="433" width="5" height="1" fill="#000"/><rect x="661" y="471" width="5" height="1" fill="#000"/><rect x="662" y="446" width="3" height="20" fill="#f00"/><rect x="674" y="432" width="1" height="35" fill="#000"/><rect x="672" y="432" width="5" height="1" fill="#000"/><rect x="672" y="466" width="5" height="1" fill="#000"/><rect x="673" y="458" width="3" height="3" fill="#f00"/><rect x="685" y="372" width="1" height="56" fill="#000"/><rect x="683" y="372" width="5" height="1" fill="#000"/><rect x="683" y="427" width="5" height="1" fill="#000"/><rect x="684" y="406" width="3" height="16" fill="#0f0"/><rect x="696" y="395" width="1" height="40" fill="#000"/><rect x="694" y="395" width="5" height="1" fill="#000"/><rect x="694" y="434" width="5" height="1" fill="#000"/><rect x="695" y="417" width="3" height="14" fill="#f00"/><rect x="707" y="422" width="1" height="51" fill="#000"/><rect x="705" y="422" width="5" height="1" fill="#000"/><rect x="705" y="472" width="5" height="1" fill="#000"/><rect x="706" y="422" width="3" height="32" fill="#f00"/><rect x="717" y="426" width="1" height="47" fill="#000"/><rect x="715" y="426" width="5" height="1" fill="#000"/><rect x="715" y="472" width="5" height="1" fill="#000"/><rect x="716" y="450" width="3" height="12" fill="#f00"/><rect x="728" y="450" width="1" height="53" fill="#000"/><rect x="726" y="450" width="5" height="1" fill="#000"/><rect x="726" y="502" width="5" height="1" fill="#000"/><rect x="727" y="458" width="3" height="10" fill="#f00"/><rect x="739" y="411" width="1" height="49" fill="#000"/><rect x="737" y="411" width="5" height="1" fill="#000"/><rect x="737" y="459" width="5" height="1" fill="#000"/><rect x="738" y="419" width="3" height="40" fill="#0f0"/><rect x="750" y="413" width="1" height="25" fill="#000"/><rect x="748" y="413" width="5" height="1" fill="#000"/><rect x="748" y="437" width="5" height="1" fill="#000"/><rect x="749" y="419" width="3" height="8" fill="#0f0"/><rect x="761" y="414" width="1" height="72" fill="#000"/><rect x="759" y="414" width="5" height="1" fill="#000"/><rect x="759" y="485" width="5" height="1" fill="#000"/><rect x="760" y="426" width="3" height="48" fill="#f00"/><rect x="772" y="423" width="1" height="54" fill="#000"/><rect x="770" y="423" width="5" height="1" fill="#000"/><rect x="770" y="476" width="5" height="1" fill="#000"/><rect x="771" y="438" width="3" height="38" fill="#0f0"/><rect x="783" y="430" width="1" height="66" fill="#000"/><rect x="781" y="430" width="5" height="1" fill="#000"/><rect x="781" y="495" width="5" height="1" fill="#000"/><rect x="782" y="431" width="3" height="51" fill="#f00"/><rect x="794" y="463" width="1" height="28" fill="#000"/><rect x="792" y="463" width="5" height="1" fill="#000"/><rect x="792" y="490" width="5" height="1" fill="#000"/><rect x="793" y="474" width="3" height="8" fill="#0f0"/><rect x="805" y="474" width="1" height="67" fill="#000"/><rect x="803" y="474" width="5" height="1" fill="#000"/><rect x="803" y="540" width="5" height="1" fill="#000"/><rect x="804" y="481" width="3" height="48" fill="#f00"/><rect x="816" y="445" width="1" height="72" fill="#000"/><rect x="814" y="445" width="5" height="1" fill="#000"/><rect x="814" y="516" width="5" height="1" fill="#000"/><rect x="815" y="466" width="3" height="46" fill="#0f0"/><rect x="827" y="445" width="1" height="35" fill="#000"/><rect x="825" y="445" width="5" height="1" fill="#000"/><rect x="825" y="479" width="5" height="1" fill="#000"/><rect x="826" y="466" width="3" height="8" fill="#f00"/><rect x="838" y="474" width="1" height="43" fill="#000"/><rect x="836" y="474" width="5" height="1" fill="#000"/><rect x="836" y="516" width="5" height="1" fill="#000"/><rect x="837" y="485" width="3" height="19" fill="#f00"/><rect x="849" y="442" width="1" height="51" fill="#000"/><rect x="847" y="442" width="5" height="1" fill="#000"/><rect x="847" y="492" width="5" height="1" fill="#000"/><rect x="848" y="461" width="3" height="21" fill="#0f0"/><rect x="860" y="428" width="1" height="70" fill="#000"/><rect x="858" y="428" width="5" height="1" fill="#000"/><rect x="858" y="497" width="5" height="1" fill="#000"/><rect x="859" y="442" width="3" height="49" fill="#f00"/><rect x="871" y="459" width="1" height="55" fill="#000"/><rect x="869" y="459" width="5" height="1" fill="#000"/><rect x="869" y="513" width="5" height="1" fill="#000"/><rect x="870" y="466" width="3" height="14" fill="#0f0"/><rect x="882" y="423" width="1" height="21" fill="#000"/><rect x="880" y="423" width="5" height="1" fill="#000"/><rect x="880" y="443" width="5" height="1" fill="#000"/><rect x="881" y="433" width="3" height="10" fill="#0f0"/><rect x="892" y="415" width="1" height="32" fill="#000"/><rect x="890" y="415" width="5" height="1" fill="#000"/><rect x="890" y="446" width="5" height="1" fill="#000"/><rect x="891" y="426" width="3" height="20" fill="#f00"/><rect x="903" y="443" width="1" height="79" fill="#000"/><rect x="901" y="443" width="5" height="1" fill="#000"/><rect x="901" y="521" width="5" height="1" fill="#000"/><rect x="902" y="443" width="3" height="78" fill="#f00"/><rect x="914" y="503" width="1" height="31" fill="#000"/><rect x="912" y="503" width="5" height="1" fill="#000"/><rect x="912" y="533" width="5" height="1" fill="#000"/><rect x="913" y="520" width="3" height="2" fill="#f00"/><rect x="925" y="494" width="1" height="22" fill="#000"/><rect x="923" y="494" width="5" height="1" fill="#000"/><rect x="923" y="515" width="5" height="1" fill="#000"/><rect x="924" y="505" width="3" height="3" fill="#f00"/><rect x="936" y="481" width="1" height="40" fill="#000"/><rect x="934" y="481" width="5" height="1" fill="#000"/><rect x="934" y="520" width="5" height="1" fill="#000"/><rect x="935" y="507" width="3" height="2" fill="#f00"/><rect x="947" y="497" width="1" height="42" fill="#000"/><rect x="945" y="497" width="5" height="1" fill="#000"/><rect x="945" y="538" width="5" height="1" fill="#000"/><rect x="946" y="498" width="3" height="36" fill="#f00"/><rect x="958" y="529" width="1" height="20" fill="#000"/><rect x="956" y="529" width="5" height="1" fill="#000"/><rect x="956" y="548" width="5" height="1" fill="#000"/><rect x="957" y="536" width="3" height="3" fill="#f00"/><rect x="969" y="472" width="1" height="66" fill="#000"/><rect x="967" y="472" width="5" height="1" fill="#000"/><rect x="967" y="537" width="5" height="1" fill="#000"/><rect x="968" y="483" width="3" height="47" fill="#0f0"/><rect x="980" y="419" width="1" height="53" fill="#000"/><rect x="978" y="419" width="5" height="1" fill="#000"/><rect x="978" y="471" width="5" height="1" fill="#000"/><rect x="979" y="459" width="3" height="9" fill="#0f0"/><rect x="991" y="431" width="1" height="35" fill="#000"/><rect x="989" y="431" width="5" height="1" fill="#000"/><rect x="989" y="465" width="5" height="1" fill="#000"/><rect x="990" y="447" width="3" height="18" fill="#0f0"/><rect x="1002" y="437" width="1" height="23" fill="#000"/><rect x="1000" y="437" width="5" height="1" fill="#000"/><rect x="1000" y="459" width="5" height="1" fill="#000"/><rect x="1001" y="453" width="3" height="6" fill="#f00"/><rect x="1013" y="456" width="1" height="44" fill="#000"/><rect x="1011" y="456" width="5" height="1" fill="#000"/><rect x="1011" y="499" width="5" height="1" fill="#000"/><rect x="1012" y="461" width="3" height="14" fill="#0f0"/><rect x="1024" y="390" width="1" height="61" fill="#000"/><rect x="1022" y="390" width="5" height="1" fill="#000"/><rect x="1022" y="450" width="5" height="1" fill="#000"/><rect x="1023" y="412" width="3" height="20" fill="#0f0"/><rect x="1035" y="346" width="1" height="52" fill="#000"/><rect x="1033" y="346" width="5" height="1" fill="#000"/><rect x="1033" y="397" width="5" height="1" fill="#000"/><rect x="1034" y="370" width="3" height="28" fill="#0f0"/><rect x="1046" y="367" width="1" height="33" fill="#000"/><rect x="1044" y="367" width="5" height="1" fill="#000"/><rect x="1044" y="399" width="5" height="1" fill="#000"/><rect x="1045" y="379" width="3" height="15" fill="#f00"/><rect x="1057" y="352" width="1" height="48" fill="#000"/><rect x="1055" y="352" width="5" height="1" fill="#000"/><rect x="1055" y="399" width="5" height="1" fill="#000"/><rect x="1056" y="375" width="3" height="16" fill="#0f0"/><rect x="1067" y="348" width="1" height="27" fill="#000"/><rect x="1065" y="348" width="5" height="1" fill="#000"/><rect x="1065" y="374" width="5" height="1" fill="#000"/><rect x="1066" y="358" width="3" height="6" fill="#0f0"/><rect x="1078" y="336" width="1" height="31" fill="#000"/><rect x="1076" y="336" width="5" height="1" fill="#000"/><rect x="1076" y="366" width="5" height="1" fill="#000"/><rect x="1077" y="356" width="3" height="3" fill="#f00"/><rect x="1089" y="341" width="1" height="33" fill="#000"/><rect x="1087" y="341" width="5" height="1" fill="#000"/><rect x="1087" y="373" width="5" height="1" fill="#000"/><rect x="1088" y="350" width="3" height="14" fill="#f00"/><rect x="1100" y="345" width="1" height="35" fill="#000"/><rect x="1098" y="345" width="5" height="1" fill="#000"/><rect x="1098" y="379" width="5" height="1" fill="#000"/><rect x="1099" y="368" width="3" height="8" fill="#0f0"/><rect x="1111" y="365" width="1" height="22" fill="#000"/><rect x="1109" y="365" width="5" height="1" fill="#000"/><rect x="1109" y="386" width="5" height="1" fill="#000"/><rect x="1110" y="366" width="3" height="3" fill="#0f0"/><rect x="1122" y="324" width="1" height="45" fill="#000"/><rect x="1120" y="324" width="5" height="1" fill="#000"/><rect x="1120" y="368" width="5" height="1" fill="#000"/><rect x="1121" y="329" width="3" height="35" fill="#0f0"/><rect x="1133" y="305" width="1" height="32" fill="#000"/><rect x="1131" y="305" width="5" height="1" fill="#000"/><rect x="1131" y="336" width="5" height="1" fill="#000"/><rect x="1132" y="307" width="3" height="15" fill="#0f0"/><rect x="1144" y="279" width="1" height="36" fill="#000"/><rect x="1142" y="279" width="5" height="1" fill="#000"/><rect x="1142" y="314" width="5" height="1" fill="#000"/><rect x="1143" y="279" width="3" height="24" fill="#0f0"/></g>
<rect x="551" y="51" width="6" height="6" fill="#d0d4d4"/>
<rect x="550" y="50" width="6" height="6" fill="#cd6469"/>
<text x="560.00" y="56.30" font-size="11.15" text-anchor="start" textLength="55.0" lengthAdjust="spacingAndGlyphs">Support 1</text>
<rect x="620.3" y="51" width="6" height="6" fill="#d0d4d4"/>
<rect x="619.3" y="50" width="6" height="6" fill="#be6464"/>
<text x="629.00" y="56.30" font-size="11.15" text-anchor="start" textLength="56.0" lengthAdjust="spacingAndGlyphs">Support 2</text>
<rect x="689.3" y="51" width="6" height="6" fill="#d0d4d4"/>
<rect x="688.3" y="50" width="6" height="6" fill="#a06464"/>
<text x="698.30" y="56.30" font-size="11.15" text-anchor="start" textLength="55.5" lengthAdjust="spacingAndGlyphs">Support 3</text>
<rect x="758" y="51" width="6" height="6" fill="#d0d4d4"/>
<rect x="757" y="50" width="6" height="6" fill="#64d264"/>
<text x="766.50" y="58.20" font-size="11.15" text-anchor="start" textLength="71.5" lengthAdjust="spacingAndGlyphs">Résistance 1</text>
<rect x="843" y="51" width="6" height="6" fill="#d0d4d4"/>
<rect x="842" y="50" width="6" height="6" fill="#64aa64"/>
<text x="852.00" y="58.20" font-size="11.15" text-anchor="start" textLength="72.2" lengthAdjust="spacingAndGlyphs">Résistance 2</text>
<rect x="928.5" y="51" width="6" height="6" fill="#d0d4d4"/>
<rect x="927.5" y="50" width="6" height="6" fill="#6464f0"/>
<text x="937.00" y="56.30" font-size="11.15" text-anchor="start" textLength="31.5" lengthAdjust="spacingAndGlyphs">MM20</text>
<rect x="973" y="51" width="6" height="6" fill="#d0d4d4"/>
<rect x="972" y="50" width="6" height="6" fill="#b464f0"/>
<text x="982.00" y="56.30" font-size="11.15" text-anchor="start" textLength="31.5" lengthAdjust="spacingAndGlyphs">MM50</text>
<rect x="1018" y="51" width="6" height="6" fill="#d0d4d4"/>
<rect x="1017" y="50" width="6" height="6" fill="#f064dc"/>
<text x="1027.00" y="56.30" font-size="11.15" text-anchor="start" textLength="38.5" lengthAdjust="spacingAndGlyphs">MM100</text>
<rect x="101" y="831.00" width="1049.5" height="35.00" fill="#f8f8f8"/>
<rect x="101" y="761.00" width="1049.5" height="35.00" fill="#f8f8f8"/>
<line x1="107" y1="725.5" x2="1150.5" y2="725.5" stroke="rgba(0,0,0,0.105)" stroke-dasharray="4 4"/>
<line x1="107" y1="760.5" x2="1150.5" y2="760.5" stroke="rgba(0,0,0,0.105)" stroke-dasharray="4 4"/>
<line x1="107" y1="795.5" x2="1150.5" y2="795.5" stroke="rgba(0,0,0,0.105)" stroke-dasharray="4 4"/>
<line x1="107" y1="830.5" x2="1150.5" y2="830.5" stroke="rgba(0,0,0,0.105)" stroke-dasharray="4 4"/>
<line x1="107" y1="865.5" x2="1150.5" y2="865.5" stroke="rgba(0,0,0,0.105)" stroke-dasharray="4 4"/>
<line x1="105.50" y1="724" x2="105.50" y2="900" stroke="rgba(0,0,0,0.12)" stroke-dasharray="4 4"/>
<line x1="116.44" y1="724" x2="116.44" y2="900" stroke="rgba(0,0,0,0.042)" stroke-dasharray="4 4"/>
<line x1="127.37" y1="724" x2="127.37" y2="900" stroke="rgba(0,0,0,0.042)" stroke-dasharray="4 4"/>
<line x1="138.31" y1="724" x2="138.31" y2="900" stroke="rgba(0,0,0,0.042)" stroke-dasharray="4 4"/>
<line x1="149.25" y1="724" x2="149.25" y2="900" stroke="rgba(0,0,0,0.042)" stroke-dasharray="4 4"/>
<line x1="160.19" y1="724" x2="160.19" y2="900" stroke="rgba(0,0,0,0.12)" stroke-dasharray="4 4"/>
<line x1="171.12" y1="724" x2="171.12" y2="900" stroke="rgba(0,0,0,0.042)" stroke-dasharray="4 4"/>
<line x1="182.06" y1="724" x2="182.06" y2="900" stroke="rgba(0,0,0,0.042)" stroke-dasharray="4 4"/>
<line x1="193.00" y1="724" x2="193.00" y2="900" stroke="rgba(0,0,0,0.042)" stroke-dasharray="4 4"/>
<line x1="203.93" y1="724" x2="203.93" y2="900" stroke="rgba(0,0,0,0.042)" stroke-dasharray="4 4"/>
<line x1="214.87" y1="724" x2="214.87" y2="900" stroke="rgba(0,0,0,0.12)" stroke-dasharray="4 4"/>
<line x1="225.81" y1="724" x2="225.81" y2="900" stroke="rgba(0,0,0,0.042)" stroke-dasharray="4 4"/>
<line x1="236.74" y1="724" x2="236.74" y2="900" stroke="rgba(0,0,0,0.042)" stroke-dasharray="4 4"/>
<line x1="247.68" y1="724" x2="247.68" y2="900" stroke="rgba(0,0,0,0.042)" stroke-dasharray="4 4"/>
<line x1="258.62" y1="724" x2="258.62" y2="900" stroke="rgba(0,0,0,0.042)" stroke-dasharray="4 4"/>
<line x1="269.55" y1="724" x2="269.55" y2="900" stroke="rgba(0,0,0,0.12)" stroke-dasharray="4 4"/>
<line x1="280.49" y1="724" x2="280.49" y2="900" stroke="rgba(0,0,0,0.042)" stroke-dasharray="4 4"/>
<line x1="291.43" y1="724" x2="291.43" y2="900" stroke="rgba(0,0,0,0.042)" stroke-dasharray="4 4"/>
<line x1="302.37" y1="724" x2="302.37" y2="900" stroke="rgba(0,0,0,0.042)" stroke-dasharray="4 4"/>
<line x1="313.30" y1="724" x2="313.30" y2="900" stroke="rgba(0,0,0,0.042)" stroke-dasharray="4 4"/>
<line x1="324.24" y1="724" x2="324.24" y2="900" stroke="rgba(0,0,0,0.12)" stroke-dasharray="4 4"/>
<line x1="335.18" y1="724" x2="335.18" y2="900" stroke="rgba(0,0,0,0.042)" stroke-dasharray="4 4"/>
<line x1="346.11" y1="724" x2="346.11" y2="900" stroke="rgba(0,0,0,0.042)" stroke-dasharray="4 4"/>
<line x1="357.05" y1="724" x2="357.05" y2="900" stroke="rgba(0,0,0,0.042)" stroke-dasharray="4 4"/>
<line x1="367.99" y1="724" x2="367.99" y2="900" stroke="rgba(0,0,0,0.042)" stroke-dasharray="4 4"/>
<line x1="378.93" y1="724" x2="378.93" y2="900" stroke="rgba(0,0,0,0.12)" stroke-dasharray="4 4"/>
<line x1="389.86" y1="724" x2="389.86" y2="900" stroke="rgba(0,0,0,0.042)" stroke-dasharray="4 4"/>
<line x1="400.80" y1="724" x2="400.80" y2="900" stroke="rgba(0,0,0,0.042)" stroke-dasharray="4 4"/>
<line x1="411.74" y1="724" x2="411.74" y2="900" stroke="rgba(0,0,0,0.042)" stroke-dasharray="4 4"/>
<line x1="422.67" y1="724" x2="422.67" y2="900" stroke="rgba(0,0,0,0.042)" stroke-dasharray="4 4"/>
<line x1="433.61" y1="724" x2="433.61" y2="900" stroke="rgba(0,0,0,0.12)" stroke-dasharray="4 4"/>
<line x1="444.55" y1="724" x2="444.55" y2="900" stroke="rgba(0,0,0,0.042)" stroke-dasharray="4 4"/>
<line x1="455.48" y1="724" x2="455.48" y2="900" stroke="rgba(0,0,0,0.042)" stroke-dasharray="4 4"/>
<line x1="466.42" y1="724" x2="466.42" y2="900" stroke="rgba(0,0,0,0.042)" stroke-dasharray="4 4"/>
<line x1="477.36" y1="724" x2="477.36" y2="900" stroke="rgba(0,0,0,0.042)" stroke-dasharray="4 4"/>
<line x1="488.29" y1="724" x2="488.29" y2="900" stroke="rgba(0,0,0,0.12)" stroke-dasharray="4 4"/>
<line x1="499.23" y1="724" x2="499.23" y2="900" stroke="rgba(0,0,0,0.042)" stroke-dasharray="4 4"/>
<line x1="510.17" y1="724" x2="510.17" y2="900" stroke="rgba(0,0,0,0.042)" stroke-dasharray="4 4"/>
<line x1="521.11" y1="724" x2="521.11" y2="900" stroke="rgba(0,0,0,0.042)" stroke-dasharray="4 4"/>
<line x1="532.04" y1="724" x2="532.04" y2="900" stroke="rgba(0,0,0,0.042)" stroke-dasharray="4 4"/>
<line x1="542.98" y1="724" x2="542.98" y2="900" stroke="rgba(0,0,0,0.12)" stroke-dasharray="4 4"/>
<line x1="553.92" y1="724" x2="553.92" y2="900" stroke="rgba(0,0,0,0.042)" stroke-dasharray="4 4"/>
<line x1="564.85" y1="724" x2="564.85" y2="900" stroke="rgba(0,0,0,0.042)" stroke-dasharray="4 4"/>
<line x1="575.79" y1="724" x2="575.79" y2="900" stroke="rgba(0,0,0,0.042)" stroke-dasharray="4 4"/>
<line x1="586.73" y1="724" x2="586.73" y2="900" stroke="rgba(0,0,0,0.042)" stroke-dasharray="4 4"/>
<line x1="597.66" y1="724" x2="597.66" y2="900" stroke="rgba(0,0,0,0.12)" stroke-dasharray="4 4"/>
<line x1="608.60" y1="724" x2="608.60" y2="900" stroke="rgba(0,0,0,0.042)" stroke-dasharray="4 4"/>
<line x1="619.54" y1="724" x2="619.54" y2="900" stroke="rgba(0,0,0,0.042)" stroke-dasharray="4 4"/>
<line x1="630.48" y1="724" x2="630.48" y2="900" stroke="rgba(0,0,0,0.042)" stroke-dasharray="4 4"/>
<line x1="641.41" y1="724" x2="641.41" y2="900" stroke="rgba(0,0,0,0.042)" stroke-dasharray="4 4"/>
<line x1="652.35" y1="724" x2="652.35" y2="900" stroke="rgba(0,0,0,0.12)" stroke-dasharray="4 4"/>
<line x1="663.29" y1="724" x2="663.29" y2="900" stroke="rgba(0,0,0,0.042)" stroke-dasharray="4 4"/>
<line x1="674.22" y1="724" x2="674.22" y2="900" stroke="rgba(0,0,0,0.042)" stroke-dasharray="4 4"/>
<line x1="685.16" y1="724" x2="685.16" y2="900" stroke="rgba(0,0,0,0.042)" stroke-dasharray="4 4"/>
<line x1="696.10" y1="724" x2="696.10" y2="900" stroke="rgba(0,0,0,0.042)" stroke-dasharray="4 4"/>
<line x1="707.03" y1="724" x2="707.03" y2="900" stroke="rgba(0,0,0,0.12)" stroke-dasharray="4 4"/>
<line x1="717.97" y1="724" x2="717.97" y2="900" stroke="rgba(0,0,0,0.042)" stroke-dasharray="4 4"/>
<line x1="728.91" y1="724" x2="728.91" y2="900" stroke="rgba(0,0,0,0.042)" stroke-dasharray="4 4"/>
<line x1="739.85" y1="724" x2="739.85" y2="900" stroke="rgba(0,0,0,0.042)" stroke-dasharray="4 4"/>
<line x1="750.78" y1="724" x2="750.78" y2="900" stroke="rgba(0,0,0,0.042)" stroke-dasharray="4 4"/>
<line x1="761.72" y1="724" x2="761.72" y2="900" stroke="rgba(0,0,0,0.12)" stroke-dasharray="4 4"/>
<line x1="772.66" y1="724" x2="772.66" y2="900" stroke="rgba(0,0,0,0.042)" stroke-dasharray="4 4"/>
<line x1="783.59" y1="724" x2="783.59" y2="900" stroke="rgba(0,0,0,0.042)" stroke-dasharray="4 4"/>
<line x1="794.53" y1="724" x2="794.53" y2="900" stroke="rgba(0,0,0,0.042)" stroke-dasharray="4 4"/>
<line x1="805.47" y1="724" x2="805.47" y2="900" stroke="rgba(0,0,0,0.042)" stroke-dasharray="4 4"/>
<line x1="816.40" y1="724" x2="816.40" y2="900" stroke="rgba(0,0,0,0.12)" stroke-dasharray="4 4"/>
<line x1="827.34" y1="724" x2="827.34" y2="900" stroke="rgba(0,0,0,0.042)" stroke-dasharray="4 4"/>
<line x1="838.28" y1="724" x2="838.28" y2="900" stroke="rgba(0,0,0,0.042)" stroke-dasharray="4 4"/>
<line x1="849.22" y1="724" x2="849.22" y2="900" stroke="rgba(0,0,0,0.042)" stroke-dasharray="4 4"/>
<line x1="860.15" y1="724" x2="860.15" y2="900" stroke="rgba(0,0,0,0.042)" stroke-dasharray="4 4"/>
<line x1="871.09" y1="724" x2="871.09" y2="900" stroke="rgba(0,0,0,0.12)" stroke-dasharray="4 4"/>
<line x1="882.03" y1="724" x2="882.03" y2="900" stroke="rgba(0,0,0,0.042)" stroke-dasharray="4 4"/>
<line x1="892.96" y1="724" x2="892.96" y2="900" stroke="rgba(0,0,0,0.042)" stroke-dasharray="4 4"/>
<line x1="903.90" y1="724" x2="903.90" y2="900" stroke="rgba(0,0,0,0.042)" stroke-dasharray="4 4"/>
<line x1="914.84" y1="724" x2="914.84" y2="900" stroke="rgba(0,0,0,0.042)" stroke-dasharray="4 4"/>
<line x1="925.77" y1="724" x2="925.77" y2="900" stroke="rgba(0,0,0,0.12)" stroke-dasharray="4 4"/>
<line x1="936.71" y1="724" x2="936.71" y2="900" stroke="rgba(0,0,0,0.042)" stroke-dasharray="4 4"/>
<line x1="947.65" y1="724" x2="947.65" y2="900" stroke="rgba(0,0,0,0.042)" stroke-dasharray="4 4"/>
<line x1="958.59" y1="724" x2="958.59" y2="900" stroke="rgba(0,0,0,0.042)" stroke-dasharray="4 4"/>
<line x1="969.52" y1="724" x2="969.52" y2="900" stroke="rgba(0,0,0,0.042)" stroke-dasharray="4 4"/>
<line x1="980.46" y1="724" x2="980.46" y2="900" stroke="rgba(0,0,0,0.12)" stroke-dasharray="4 4"/>
<line x1="991.40" y1="724" x2="991.40" y2="900" stroke="rgba(0,0,0,0.042)" stroke-dasharray="4 4"/>
<line x1="1002.33" y1="724" x2="1002.33" y2="900" stroke="rgba(0,0,0,0.042)" stroke-dasharray="4 4"/>
<line x1="1013.27" y1="724" x2="1013.27" y2="900" stroke="rgba(0,0,0,0.042)" stroke-dasharray="4 4"/>
<line x1="1024.21" y1="724" x2="1024.21" y2="900" stroke="rgba(0,0,0,0.042)" stroke-dasharray="4 4"/>
<line x1="1035.14" y1="724" x2="1035.14" y2="900" stroke="rgba(0,0,0,0.12)" stroke-dasharray="4 4"/>
<line x1="1046.08" y1="724" x2="1046.08" y2="900" stroke="rgba(0,0,0,0.042)" stroke-dasharray="4 4"/>
<line x1="1057.02" y1="724" x2="1057.02" y2="900" stroke="rgba(0,0,0,0.042)" stroke-dasharray="4 4"/>
<line x1="1067.96" y1="724" x2="1067.96" y2="900" stroke="rgba(0,0,0,0.042)" stroke-dasharray="4 4"/>
<line x1="1078.89" y1="724" x2="1078.89" y2="900" stroke="rgba(0,0,0,0.042)" stroke-dasharray="4 4"/>
<line x1="1089.83" y1="724" x2="1089.83" y2="900" stroke="rgba(0,0,0,0.12)" stroke-dasharray="4 4"/>
<line x1="1100.77" y1="724" x2="1100.77" y2="900" stroke="rgba(0,0,0,0.042)" stroke-dasharray="4 4"/>
<line x1="1111.70" y1="724" x2="1111.70" y2="900" stroke="rgba(0,0,0,0.042)" stroke-dasharray="4 4"/>
<line x1="1122.64" y1="724" x2="1122.64" y2="900" stroke="rgba(0,0,0,0.042)" stroke-dasharray="4 4"/>
<line x1="1133.58" y1="724" x2="1133.58" y2="900" stroke="rgba(0,0,0,0.042)" stroke-dasharray="4 4"/>
<line x1="1144.51" y1="724" x2="1144.51" y2="900" stroke="rgba(0,0,0,0.12)" stroke-dasharray="4 4"/>
<line x1="100.5" y1="713" x2="100.5" y2="901" stroke="#000"/>
<path d="M100.5 712.7 L96.8 720 L104.2 720 Z" fill="#000"/>
<line x1="100" y1="900.5" x2="1163" y2="900.5" stroke="#000"/>
<path d="M1162 900.5 L1155 896.8 L1155 904.2 Z" fill="#000"/>
<line x1="98" y1="725.5" x2="103" y2="725.5" stroke="#000"/>
<line x1="98" y1="742.5" x2="100" y2="742.5" stroke="#f00"/>
<text x="99.10" y="728.40" font-size="11.15" text-anchor="end" textLength="63.3" lengthAdjust="spacingAndGlyphs">100,000.00</text>
<line x1="98" y1="760.5" x2="103" y2="760.5" stroke="#000"/>
<line x1="98" y1="777.5" x2="100" y2="777.5" stroke="#f00"/>
<text x="99.10" y="763.40" font-size="11.15" text-anchor="end" textLength="56.3" lengthAdjust="spacingAndGlyphs">80,000.00</text>
<line x1="98" y1="795.5" x2="103" y2="795.5" stroke="#000"/>
<line x1="98" y1="812.5" x2="100" y2="812.5" stroke="#f00"/>
<text x="99.10" y="798.40" font-size="11.15" text-anchor="end" textLength="56.3" lengthAdjust="spacingAndGlyphs">60,000.00</text>
<line x1="98" y1="830.5" x2="103" y2="830.5" stroke="#000"/>
<line x1="98" y1="847.5" x2="100" y2="847.5" stroke="#f00"/>
<text x="99.10" y="833.40" font-size="11.15" text-anchor="end" textLength="56.3" lengthAdjust="spacingAndGlyphs">40,000.00</text>
<line x1="98" y1="865.5" x2="103" y2="865.5" stroke="#000"/>
<line x1="98" y1="882.5" x2="100" y2="882.5" stroke="#f00"/>
<text x="99.10" y="868.40" font-size="11.15" text-anchor="end" textLength="56.3" lengthAdjust="spacingAndGlyphs">20,000.00</text>
<line x1="98" y1="900.5" x2="103" y2="900.5" stroke="#000"/>
<text x="99.10" y="904.90" font-size="11.15" text-anchor="end" textLength="24.7" lengthAdjust="spacingAndGlyphs">0.00</text>
<line x1="105.50" y1="898" x2="105.50" y2="903" stroke="#000"/>
<text x="106.70" y="913.40" font-size="11.15" text-anchor="middle" textLength="39.6" lengthAdjust="spacingAndGlyphs">26 Juin</text>
<line x1="116.44" y1="901" x2="116.44" y2="903" stroke="#bbb"/>
<line x1="127.37" y1="901" x2="127.37" y2="903" stroke="#bbb"/>
<line x1="138.31" y1="901" x2="138.31" y2="903" stroke="#bbb"/>
<line x1="149.25" y1="901" x2="149.25" y2="903" stroke="#bbb"/>
<line x1="160.19" y1="898" x2="160.19" y2="903" stroke="#000"/>
<text x="161.38" y="913.40" font-size="11.15" text-anchor="middle" textLength="28.7" lengthAdjust="spacingAndGlyphs">3 Juil</text>
<line x1="171.12" y1="901" x2="171.12" y2="903" stroke="#bbb"/>
<line x1="182.06" y1="901" x2="182.06" y2="903" stroke="#bbb"/>
<line x1="193.00" y1="901" x2="193.00" y2="903" stroke="#bbb"/>
<line x1="203.93" y1="901" x2="203.93" y2="903" stroke="#bbb"/>
<line x1="214.87" y1="898" x2="214.87" y2="903" stroke="#000"/>
<text x="216.07" y="913.40" font-size="11.15" text-anchor="middle" textLength="35.6" lengthAdjust="spacingAndGlyphs">10 Juil</text>
<line x1="225.81" y1="901" x2="225.81" y2="903" stroke="#bbb"/>
<line x1="236.74" y1="901" x2="236.74" y2="903" stroke="#bbb"/>
<line x1="247.68" y1="901" x2="247.68" y2="903" stroke="#bbb"/>
<line x1="258.62" y1="901" x2="258.62" y2="903" stroke="#bbb"/>
<line x1="269.55" y1="898" x2="269.55" y2="903" stroke="#000"/>
<text x="270.75" y="913.40" font-size="11.15" text-anchor="middle" textLength="35.6" lengthAdjust="spacingAndGlyphs">17 Juil</text>
<line x1="280.49" y1="901" x2="280.49" y2="903" stroke="#bbb"/>
<line x1="291.43" y1="901" x2="291.43" y2="903" stroke="#bbb"/>
<line x1="302.37" y1="901" x2="302.37" y2="903" stroke="#bbb"/>
<line x1="313.30" y1="901" x2="313.30" y2="903" stroke="#bbb"/>
<line x1="324.24" y1="898" x2="324.24" y2="903" stroke="#000"/>
<text x="325.44" y="913.40" font-size="11.15" text-anchor="middle" textLength="35.6" lengthAdjust="spacingAndGlyphs">24 Juil</text>
<line x1="335.18" y1="901" x2="335.18" y2="903" stroke="#bbb"/>
<line x1="346.11" y1="901" x2="346.11" y2="903" stroke="#bbb"/>
<line x1="357.05" y1="901" x2="357.05" y2="903" stroke="#bbb"/>
<line x1="367.99" y1="901" x2="367.99" y2="903" stroke="#bbb"/>
<line x1="378.93" y1="898" x2="378.93" y2="903" stroke="#000"/>
<text x="380.12" y="913.40" font-size="11.15" text-anchor="middle" textLength="35.6" lengthAdjust="spacingAndGlyphs">31 Juil</text>
<line x1="389.86" y1="901" x2="389.86" y2="903" stroke="#bbb"/>
<line x1="400.80" y1="901" x2="400.80" y2="903" stroke="#bbb"/>
<line x1="411.74" y1="901" x2="411.74" y2="903" stroke="#bbb"/>
<line x1="422.67" y1="901" x2="422.67" y2="903" stroke="#bbb"/>
<line x1="433.61" y1="898" x2="433.61" y2="903" stroke="#000"/>
<text x="434.81" y="914.30" font-size="11.15" text-anchor="middle" textLength="36.1" lengthAdjust="spacingAndGlyphs">7 Août</text>
<line x1="444.55" y1="901" x2="444.55" y2="903" stroke="#bbb"/>
<line x1="455.48" y1="901" x2="455.48" y2="903" stroke="#bbb"/>
<line x1="466.42" y1="901" x2="466.42" y2="903" stroke="#bbb"/>
<line x1="477.36" y1="901" x2="477.36" y2="903" stroke="#bbb"/>
<line x1="488.29" y1="898" x2="488.29" y2="903" stroke="#000"/>
<text x="489.49" y="914.30" font-size="11.15" text-anchor="middle" textLength="43.1" lengthAdjust="spacingAndGlyphs">14 Août</text>
<line x1="499.23" y1="901" x2="499.23" y2="903" stroke="#bbb"/>
<line x1="510.17" y1="901" x2="510.17" y2="903" stroke="#bbb"/>
<line x1="521.11" y1="901" x2="521.11" y2="903" stroke="#bbb"/>
<line x1="532.04" y1="901" x2="532.04" y2="903" stroke="#bbb"/>
<line x1="542.98" y1="898" x2="542.98" y2="903" stroke="#000"/>
<text x="544.18" y="914.30" font-size="11.15" text-anchor="middle" textLength="43.1" lengthAdjust="spacingAndGlyphs">21 Août</text>
<line x1="553.92" y1="901" x2="553.92" y2="903" stroke="#bbb"/>
<line x1="564.85" y1="901" x2="564.85" y2="903" stroke="#bbb"/>
<line x1="575.79" y1="901" x2="575.79" y2="903" stroke="#bbb"/>
<line x1="586.73" y1="901" x2="586.73" y2="903" stroke="#bbb"/>
<line x1="597.66" y1="898" x2="597.66" y2="903" stroke="#000"/>
<text x="598.87" y="914.30" font-size="11.15" text-anchor="middle" textLength="43.1" lengthAdjust="spacingAndGlyphs">28 Août</text>
<line x1="608.60" y1="901" x2="608.60" y2="903" stroke="#bbb"/>
<line x1="619.54" y1="901" x2="619.54" y2="903" stroke="#bbb"/>
<line x1="630.48" y1="901" x2="630.48" y2="903" stroke="#bbb"/>
<line x1="641.41" y1="901" x2="641.41" y2="903" stroke="#bbb"/>
<line x1="652.35" y1="898" x2="652.35" y2="903" stroke="#000"/>
<text x="653.55" y="913.40" font-size="11.15" text-anchor="middle" textLength="35.9" lengthAdjust="spacingAndGlyphs">4 Sept</text>
<line x1="663.29" y1="901" x2="663.29" y2="903" stroke="#bbb"/>
<line x1="674.22" y1="901" x2="674.22" y2="903" stroke="#bbb"/>
<line x1="685.16" y1="901" x2="685.16" y2="903" stroke="#bbb"/>
<line x1="696.10" y1="901" x2="696.10" y2="903" stroke="#bbb"/>
<line x1="707.03" y1="898" x2="707.03" y2="903" stroke="#000"/>
<text x="708.24" y="913.40" font-size="11.15" text-anchor="middle" textLength="42.9" lengthAdjust="spacingAndGlyphs">11 Sept</text>
<line x1="717.97" y1="901" x2="717.97" y2="903" stroke="#bbb"/>
<line x1="728.91" y1="901" x2="728.91" y2="903" stroke="#bbb"/>
<line x1="739.85" y1="901" x2="739.85" y2="903" stroke="#bbb"/>
<line x1="750.78" y1="901" x2="750.78" y2="903" stroke="#bbb"/>
<line x1="761.72" y1="898" x2="761.72" y2="903" stroke="#000"/>
<text x="762.92" y="913.40" font-size="11.15" text-anchor="middle" textLength="42.9" lengthAdjust="spacingAndGlyphs">18 Sept</text>
<line x1="772.66" y1="901" x2="772.66" y2="903" stroke="#bbb"/>
<line x1="783.59" y1="901" x2="783.59" y2="903" stroke="#bbb"/>
<line x1="794.53" y1="901" x2="794.53" y2="903" stroke="#bbb"/>
<line x1="805.47" y1="901" x2="805.47" y2="903" stroke="#bbb"/>
<line x1="816.40" y1="898" x2="816.40" y2="903" stroke="#000"/>
<text x="817.61" y="913.40" font-size="11.15" text-anchor="middle" textLength="42.9" lengthAdjust="spacingAndGlyphs">25 Sept</text>
<line x1="827.34" y1="901" x2="827.34" y2="903" stroke="#bbb"/>
<line x1="838.28" y1="901" x2="838.28" y2="903" stroke="#bbb"/>
<line x1="849.22" y1="901" x2="849.22" y2="903" stroke="#bbb"/>
<line x1="860.15" y1="901" x2="860.15" y2="903" stroke="#bbb"/>
<line x1="871.09" y1="898" x2="871.09" y2="903" stroke="#000"/>
<text x="872.29" y="913.40" font-size="11.15" text-anchor="middle" textLength="29.4" lengthAdjust="spacingAndGlyphs">2 Oct</text>
<line x1="882.03" y1="901" x2="882.03" y2="903" stroke="#bbb"/>
<line x1="892.96" y1="901" x2="892.96" y2="903" stroke="#bbb"/>
<line x1="903.90" y1="901" x2="903.90" y2="903" stroke="#bbb"/>
<line x1="914.84" y1="901" x2="914.84" y2="903" stroke="#bbb"/>
<line x1="925.77" y1="898" x2="925.77" y2="903" stroke="#000"/>
<text x="926.98" y="913.40" font-size="11.15" text-anchor="middle" textLength="29.4" lengthAdjust="spacingAndGlyphs">9 Oct</text>
<line x1="936.71" y1="901" x2="936.71" y2="903" stroke="#bbb"/>
<line x1="947.65" y1="901" x2="947.65" y2="903" stroke="#bbb"/>
<line x1="958.59" y1="901" x2="958.59" y2="903" stroke="#bbb"/>
<line x1="969.52" y1="901" x2="969.52" y2="903" stroke="#bbb"/>
<line x1="980.46" y1="898" x2="980.46" y2="903" stroke="#000"/>
<text x="981.66" y="913.40" font-size="11.15" text-anchor="middle" textLength="36.4" lengthAdjust="spacingAndGlyphs">16 Oct</text>
<line x1="991.40" y1="901" x2="991.40" y2="903" stroke="#bbb"/>
<line x1="1002.33" y1="901" x2="1002.33" y2="903" stroke="#bbb"/>
<line x1="1013.27" y1="901" x2="1013.27" y2="903" stroke="#bbb"/>
<line x1="1024.21" y1="901" x2="1024.21" y2="903" stroke="#bbb"/>
<line x1="1035.14" y1="898" x2="1035.14" y2="903" stroke="#000"/>
<text x="1036.35" y="913.40" font-size="11.15" text-anchor="middle" textLength="36.4" lengthAdjust="spacingAndGlyphs">23 Oct</text>
<line x1="1046.08" y1="901" x2="1046.08" y2="903" stroke="#bbb"/>
<line x1="1057.02" y1="901" x2="1057.02" y2="903" stroke="#bbb"/>
<line x1="1067.96" y1="901" x2="1067.96" y2="903" stroke="#bbb"/>
<line x1="1078.89" y1="901" x2="1078.89" y2="903" stroke="#bbb"/>
<line x1="1089.83" y1="898" x2="1089.83" y2="903" stroke="#000"/>
<text x="1091.03" y="913.40" font-size="11.15" text-anchor="middle" textLength="36.4" lengthAdjust="spacingAndGlyphs">30 Oct</text>
<line x1="1100.77" y1="901" x2="1100.77" y2="903" stroke="#bbb"/>
<line x1="1111.70" y1="901" x2="1111.70" y2="903" stroke="#bbb"/>
<line x1="1122.64" y1="901" x2="1122.64" y2="903" stroke="#bbb"/>
<line x1="1133.58" y1="901" x2="1133.58" y2="903" stroke="#bbb"/>
<line x1="1144.51" y1="898" x2="1144.51" y2="903" stroke="#000"/>
<text x="1145.71" y="913.40" font-size="11.15" text-anchor="middle" textLength="32.1" lengthAdjust="spacingAndGlyphs">6 Nov</text>
<text x="626.30" y="926.70" font-size="11.1" text-anchor="middle" textLength="253.5" lengthAdjust="spacingAndGlyphs">Date (du 26 Juin 2015 au 6 Novembre 2015)</text>
<text transform="translate(33.2,810.3) rotate(-90)" font-size="11.15" text-anchor="middle" textLength="41.6" lengthAdjust="spacingAndGlyphs" stroke="#000" stroke-width="0.15">Volume</text>
<text x="111.2" y="695" font-size="25.5" textLength="44.1" lengthAdjust="spacingAndGlyphs">Bic:</text>
<text x="165.2" y="695" font-size="25.5" textLength="121.1" lengthAdjust="spacingAndGlyphs">graphique</text>
<text x="295.2" y="695" font-size="25.5" textLength="29.6" lengthAdjust="spacingAndGlyphs">du</text>
<text x="331.2" y="695" font-size="25.5" textLength="86.1" lengthAdjust="spacingAndGlyphs">volume</text>
<text x="426.2" y="695" font-size="25.5" textLength="11.1" lengthAdjust="spacingAndGlyphs">-</text>
<text x="442.7" y="695" font-size="25.5" textLength="209.1" lengthAdjust="spacingAndGlyphs">AnalyBourse.com</text>
<rect x="101.20" y="811.2" width="8.6" height="88.8" fill="#fd5c5c"/>
<rect x="112.14" y="802.0" width="8.6" height="98.0" fill="#fd5c5c"/>
<rect x="123.07" y="747.0" width="8.6" height="153.0" fill="#fd5c5c"/>
<rect x="134.01" y="750.0" width="8.6" height="150.0" fill="#5cfd58"/>
<rect x="144.95" y="807.0" width="8.6" height="93.0" fill="#fd5c5c"/>
<rect x="155.88" y="845.0" width="8.6" height="55.0" fill="#5cfd58"/>
<rect x="166.82" y="842.0" width="8.6" height="58.0" fill="#fd5c5c"/>
<rect x="177.76" y="778.0" width="8.6" height="122.0" fill="#fd5c5c"/>
<rect x="188.70" y="815.0" width="8.6" height="85.0" fill="#5cfd58"/>
<rect x="199.63" y="844.0" width="8.6" height="56.0" fill="#5cfd58"/>
<rect x="210.57" y="835.0" width="8.6" height="65.0" fill="#5cfd58"/>
<rect x="221.51" y="815.0" width="8.6" height="85.0" fill="#5cfd58"/>
<rect x="232.44" y="833.0" width="8.6" height="67.0" fill="#5cfd58"/>
<rect x="243.38" y="861.0" width="8.6" height="39.0" fill="#5cfd58"/>
<rect x="254.32" y="822.0" width="8.6" height="78.0" fill="#5cfd58"/>
<rect x="265.25" y="824.0" width="8.6" height="76.0" fill="#fd5c5c"/>
<rect x="276.19" y="847.0" width="8.6" height="53.0" fill="#5cfd58"/>
<rect x="287.13" y="837.0" width="8.6" height="63.0" fill="#fd5c5c"/>
<rect x="298.07" y="853.0" width="8.6" height="47.0" fill="#fd5c5c"/>
<rect x="309.00" y="838.0" width="8.6" height="62.0" fill="#fd5c5c"/>
<rect x="319.94" y="855.0" width="8.6" height="45.0" fill="#5cfd58"/>
<rect x="330.88" y="837.0" width="8.6" height="63.0" fill="#fd5c5c"/>
<rect x="341.81" y="845.0" width="8.6" height="55.0" fill="#fd5c5c"/>
<rect x="352.75" y="874.0" width="8.6" height="26.0" fill="#5cfd58"/>
<rect x="363.69" y="830.0" width="8.6" height="70.0" fill="#5cfd58"/>
<rect x="374.62" y="813.0" width="8.6" height="87.0" fill="#5cfd58"/>
<rect x="385.56" y="805.0" width="8.6" height="95.0" fill="#5cfd58"/>
<rect x="396.50" y="844.0" width="8.6" height="56.0" fill="#fd5c5c"/>
<rect x="407.44" y="849.0" width="8.6" height="51.0" fill="#fd5c5c"/>
<rect x="418.37" y="837.0" width="8.6" height="63.0" fill="#fd5c5c"/>
<rect x="429.31" y="850.0" width="8.6" height="50.0" fill="#fd5c5c"/>
<rect x="440.25" y="864.0" width="8.6" height="36.0" fill="#5cfd58"/>
<rect x="451.18" y="845.0" width="8.6" height="55.0" fill="#fd5c5c"/>
<rect x="462.12" y="828.0" width="8.6" height="72.0" fill="#fd5c5c"/>
<rect x="473.06" y="842.0" width="8.6" height="58.0" fill="#5cfd58"/>
<rect x="483.99" y="834.0" width="8.6" height="66.0" fill="#5cfd58"/>
<rect x="494.93" y="845.0" width="8.6" height="55.0" fill="#5cfd58"/>
<rect x="505.87" y="842.0" width="8.6" height="58.0" fill="#5cfd58"/>
<rect x="516.81" y="822.0" width="8.6" height="78.0" fill="#fd5c5c"/>
<rect x="527.74" y="826.0" width="8.6" height="74.0" fill="#fd5c5c"/>
<rect x="538.68" y="821.0" width="8.6" height="79.0" fill="#fd5c5c"/>
<rect x="549.62" y="773.0" width="8.6" height="127.0" fill="#fd5c5c"/>
<rect x="560.55" y="762.0" width="8.6" height="138.0" fill="#5cfd58"/>
<rect x="571.49" y="811.0" width="8.6" height="89.0" fill="#5cfd58"/>
<rect x="582.43" y="841.0" width="8.6" height="59.0" fill="#5cfd58"/>
<rect x="593.37" y="826.0" width="8.6" height="74.0" fill="#fd5c5c"/>
<rect x="604.30" y="778.0" width="8.6" height="122.0" fill="#fd5c5c"/>
<rect x="615.24" y="807.0" width="8.6" height="93.0" fill="#5cfd58"/>
<rect x="626.18" y="844.0" width="8.6" height="56.0" fill="#fd5c5c"/>
<rect x="637.11" y="835.0" width="8.6" height="65.0" fill="#5cfd58"/>
<rect x="648.05" y="846.0" width="8.6" height="54.0" fill="#fd5c5c"/>
<rect x="658.99" y="855.0" width="8.6" height="45.0" fill="#fd5c5c"/>
<rect x="669.92" y="833.0" width="8.6" height="67.0" fill="#fd5c5c"/>
<rect x="680.86" y="821.0" width="8.6" height="79.0" fill="#5cfd58"/>
<rect x="691.80" y="833.0" width="8.6" height="67.0" fill="#fd5c5c"/>
<rect x="702.74" y="848.0" width="8.6" height="52.0" fill="#fd5c5c"/>
<rect x="713.67" y="861.0" width="8.6" height="39.0" fill="#fd5c5c"/>
<rect x="724.61" y="837.0" width="8.6" height="63.0" fill="#fd5c5c"/>
<rect x="735.55" y="822.0" width="8.6" height="78.0" fill="#5cfd58"/>
<rect x="746.48" y="851.0" width="8.6" height="49.0" fill="#5cfd58"/>
<rect x="757.42" y="786.0" width="8.6" height="114.0" fill="#fd5c5c"/>
<rect x="768.36" y="837.0" width="8.6" height="63.0" fill="#5cfd58"/>
<rect x="779.29" y="837.0" width="8.6" height="63.0" fill="#fd5c5c"/>
<rect x="790.23" y="843.0" width="8.6" height="57.0" fill="#5cfd58"/>
<rect x="801.17" y="818.0" width="8.6" height="82.0" fill="#fd5c5c"/>
<rect x="812.11" y="802.0" width="8.6" height="98.0" fill="#5cfd58"/>
<rect x="823.04" y="841.0" width="8.6" height="59.0" fill="#fd5c5c"/>
<rect x="833.98" y="834.0" width="8.6" height="66.0" fill="#fd5c5c"/>
<rect x="844.92" y="824.0" width="8.6" height="76.0" fill="#5cfd58"/>
<rect x="855.85" y="844.0" width="8.6" height="56.0" fill="#fd5c5c"/>
<rect x="866.79" y="819.0" width="8.6" height="81.0" fill="#5cfd58"/>
<rect x="877.73" y="842.0" width="8.6" height="58.0" fill="#5cfd58"/>
<rect x="888.66" y="847.0" width="8.6" height="53.0" fill="#fd5c5c"/>
<rect x="899.60" y="807.0" width="8.6" height="93.0" fill="#fd5c5c"/>
<rect x="910.54" y="856.0" width="8.6" height="44.0" fill="#fd5c5c"/>
<rect x="921.48" y="791.0" width="8.6" height="109.0" fill="#fd5c5c"/>
<rect x="932.41" y="840.0" width="8.6" height="60.0" fill="#fd5c5c"/>
<rect x="943.35" y="816.0" width="8.6" height="84.0" fill="#fd5c5c"/>
<rect x="954.29" y="850.0" width="8.6" height="50.0" fill="#5cfd58"/>
<rect x="965.22" y="818.0" width="8.6" height="82.0" fill="#5cfd58"/>
<rect x="976.16" y="756.0" width="8.6" height="144.0" fill="#5cfd58"/>
<rect x="987.10" y="857.0" width="8.6" height="43.0" fill="#5cfd58"/>
<rect x="998.03" y="851.0" width="8.6" height="49.0" fill="#fd5c5c"/>
<rect x="1008.97" y="798.0" width="8.6" height="102.0" fill="#5cfd58"/>
<rect x="1019.91" y="800.0" width="8.6" height="100.0" fill="#5cfd58"/>
<rect x="1030.85" y="814.0" width="8.6" height="86.0" fill="#5cfd58"/>
<rect x="1041.78" y="810.0" width="8.6" height="90.0" fill="#fd5c5c"/>
<rect x="1052.72" y="817.0" width="8.6" height="83.0" fill="#5cfd58"/>
<rect x="1063.66" y="840.0" width="8.6" height="60.0" fill="#5cfd58"/>
<rect x="1074.59" y="817.0" width="8.6" height="83.0" fill="#fd5c5c"/>
<rect x="1085.53" y="834.0" width="8.6" height="66.0" fill="#fd5c5c"/>
<rect x="1096.47" y="855.0" width="8.6" height="45.0" fill="#5cfd58"/>
<rect x="1107.40" y="851.0" width="8.6" height="49.0" fill="#5cfd58"/>
<rect x="1118.34" y="812.0" width="8.6" height="88.0" fill="#5cfd58"/>
<rect x="1129.28" y="853.0" width="8.6" height="47.0" fill="#5cfd58"/>
<rect x="1140.21" y="886.0" width="8.6" height="14.0" fill="#5cfd58"/>
<rect x="101" y="1131.00" width="1049.5" height="35.00" fill="#f8f8f8"/>
<rect x="101" y="1061.00" width="1049.5" height="35.00" fill="#f8f8f8"/>
<line x1="107" y1="1025.5" x2="1150.5" y2="1025.5" stroke="rgba(0,0,0,0.105)" stroke-dasharray="4 4"/>
<line x1="107" y1="1060.5" x2="1150.5" y2="1060.5" stroke="rgba(0,0,0,0.105)" stroke-dasharray="4 4"/>
<line x1="107" y1="1095.5" x2="1150.5" y2="1095.5" stroke="rgba(0,0,0,0.105)" stroke-dasharray="4 4"/>
<line x1="107" y1="1130.5" x2="1150.5" y2="1130.5" stroke="rgba(0,0,0,0.105)" stroke-dasharray="4 4"/>
<line x1="107" y1="1165.5" x2="1150.5" y2="1165.5" stroke="rgba(0,0,0,0.105)" stroke-dasharray="4 4"/>
<line x1="105.50" y1="1024" x2="105.50" y2="1200" stroke="rgba(0,0,0,0.12)" stroke-dasharray="4 4"/>
<line x1="116.44" y1="1024" x2="116.44" y2="1200" stroke="rgba(0,0,0,0.042)" stroke-dasharray="4 4"/>
<line x1="127.37" y1="1024" x2="127.37" y2="1200" stroke="rgba(0,0,0,0.042)" stroke-dasharray="4 4"/>
<line x1="138.31" y1="1024" x2="138.31" y2="1200" stroke="rgba(0,0,0,0.042)" stroke-dasharray="4 4"/>
<line x1="149.25" y1="1024" x2="149.25" y2="1200" stroke="rgba(0,0,0,0.042)" stroke-dasharray="4 4"/>
<line x1="160.19" y1="1024" x2="160.19" y2="1200" stroke="rgba(0,0,0,0.12)" stroke-dasharray="4 4"/>
<line x1="171.12" y1="1024" x2="171.12" y2="1200" stroke="rgba(0,0,0,0.042)" stroke-dasharray="4 4"/>
<line x1="182.06" y1="1024" x2="182.06" y2="1200" stroke="rgba(0,0,0,0.042)" stroke-dasharray="4 4"/>
<line x1="193.00" y1="1024" x2="193.00" y2="1200" stroke="rgba(0,0,0,0.042)" stroke-dasharray="4 4"/>
<line x1="203.93" y1="1024" x2="203.93" y2="1200" stroke="rgba(0,0,0,0.042)" stroke-dasharray="4 4"/>
<line x1="214.87" y1="1024" x2="214.87" y2="1200" stroke="rgba(0,0,0,0.12)" stroke-dasharray="4 4"/>
<line x1="225.81" y1="1024" x2="225.81" y2="1200" stroke="rgba(0,0,0,0.042)" stroke-dasharray="4 4"/>
<line x1="236.74" y1="1024" x2="236.74" y2="1200" stroke="rgba(0,0,0,0.042)" stroke-dasharray="4 4"/>
<line x1="247.68" y1="1024" x2="247.68" y2="1200" stroke="rgba(0,0,0,0.042)" stroke-dasharray="4 4"/>
<line x1="258.62" y1="1024" x2="258.62" y2="1200" stroke="rgba(0,0,0,0.042)" stroke-dasharray="4 4"/>
<line x1="269.55" y1="1024" x2="269.55" y2="1200" stroke="rgba(0,0,0,0.12)" stroke-dasharray="4 4"/>
<line x1="280.49" y1="1024" x2="280.49" y2="1200" stroke="rgba(0,0,0,0.042)" stroke-dasharray="4 4"/>
<line x1="291.43" y1="1024" x2="291.43" y2="1200" stroke="rgba(0,0,0,0.042)" stroke-dasharray="4 4"/>
<line x1="302.37" y1="1024" x2="302.37" y2="1200" stroke="rgba(0,0,0,0.042)" stroke-dasharray="4 4"/>
<line x1="313.30" y1="1024" x2="313.30" y2="1200" stroke="rgba(0,0,0,0.042)" stroke-dasharray="4 4"/>
<line x1="324.24" y1="1024" x2="324.24" y2="1200" stroke="rgba(0,0,0,0.12)" stroke-dasharray="4 4"/>
<line x1="335.18" y1="1024" x2="335.18" y2="1200" stroke="rgba(0,0,0,0.042)" stroke-dasharray="4 4"/>
<line x1="346.11" y1="1024" x2="346.11" y2="1200" stroke="rgba(0,0,0,0.042)" stroke-dasharray="4 4"/>
<line x1="357.05" y1="1024" x2="357.05" y2="1200" stroke="rgba(0,0,0,0.042)" stroke-dasharray="4 4"/>
<line x1="367.99" y1="1024" x2="367.99" y2="1200" stroke="rgba(0,0,0,0.042)" stroke-dasharray="4 4"/>
<line x1="378.93" y1="1024" x2="378.93" y2="1200" stroke="rgba(0,0,0,0.12)" stroke-dasharray="4 4"/>
<line x1="389.86" y1="1024" x2="389.86" y2="1200" stroke="rgba(0,0,0,0.042)" stroke-dasharray="4 4"/>
<line x1="400.80" y1="1024" x2="400.80" y2="1200" stroke="rgba(0,0,0,0.042)" stroke-dasharray="4 4"/>
<line x1="411.74" y1="1024" x2="411.74" y2="1200" stroke="rgba(0,0,0,0.042)" stroke-dasharray="4 4"/>
<line x1="422.67" y1="1024" x2="422.67" y2="1200" stroke="rgba(0,0,0,0.042)" stroke-dasharray="4 4"/>
<line x1="433.61" y1="1024" x2="433.61" y2="1200" stroke="rgba(0,0,0,0.12)" stroke-dasharray="4 4"/>
<line x1="444.55" y1="1024" x2="444.55" y2="1200" stroke="rgba(0,0,0,0.042)" stroke-dasharray="4 4"/>
<line x1="455.48" y1="1024" x2="455.48" y2="1200" stroke="rgba(0,0,0,0.042)" stroke-dasharray="4 4"/>
<line x1="466.42" y1="1024" x2="466.42" y2="1200" stroke="rgba(0,0,0,0.042)" stroke-dasharray="4 4"/>
<line x1="477.36" y1="1024" x2="477.36" y2="1200" stroke="rgba(0,0,0,0.042)" stroke-dasharray="4 4"/>
<line x1="488.29" y1="1024" x2="488.29" y2="1200" stroke="rgba(0,0,0,0.12)" stroke-dasharray="4 4"/>
<line x1="499.23" y1="1024" x2="499.23" y2="1200" stroke="rgba(0,0,0,0.042)" stroke-dasharray="4 4"/>
<line x1="510.17" y1="1024" x2="510.17" y2="1200" stroke="rgba(0,0,0,0.042)" stroke-dasharray="4 4"/>
<line x1="521.11" y1="1024" x2="521.11" y2="1200" stroke="rgba(0,0,0,0.042)" stroke-dasharray="4 4"/>
<line x1="532.04" y1="1024" x2="532.04" y2="1200" stroke="rgba(0,0,0,0.042)" stroke-dasharray="4 4"/>
<line x1="542.98" y1="1024" x2="542.98" y2="1200" stroke="rgba(0,0,0,0.12)" stroke-dasharray="4 4"/>
<line x1="553.92" y1="1024" x2="553.92" y2="1200" stroke="rgba(0,0,0,0.042)" stroke-dasharray="4 4"/>
<line x1="564.85" y1="1024" x2="564.85" y2="1200" stroke="rgba(0,0,0,0.042)" stroke-dasharray="4 4"/>
<line x1="575.79" y1="1024" x2="575.79" y2="1200" stroke="rgba(0,0,0,0.042)" stroke-dasharray="4 4"/>
<line x1="586.73" y1="1024" x2="586.73" y2="1200" stroke="rgba(0,0,0,0.042)" stroke-dasharray="4 4"/>
<line x1="597.66" y1="1024" x2="597.66" y2="1200" stroke="rgba(0,0,0,0.12)" stroke-dasharray="4 4"/>
<line x1="608.60" y1="1024" x2="608.60" y2="1200" stroke="rgba(0,0,0,0.042)" stroke-dasharray="4 4"/>
<line x1="619.54" y1="1024" x2="619.54" y2="1200" stroke="rgba(0,0,0,0.042)" stroke-dasharray="4 4"/>
<line x1="630.48" y1="1024" x2="630.48" y2="1200" stroke="rgba(0,0,0,0.042)" stroke-dasharray="4 4"/>
<line x1="641.41" y1="1024" x2="641.41" y2="1200" stroke="rgba(0,0,0,0.042)" stroke-dasharray="4 4"/>
<line x1="652.35" y1="1024" x2="652.35" y2="1200" stroke="rgba(0,0,0,0.12)" stroke-dasharray="4 4"/>
<line x1="663.29" y1="1024" x2="663.29" y2="1200" stroke="rgba(0,0,0,0.042)" stroke-dasharray="4 4"/>
<line x1="674.22" y1="1024" x2="674.22" y2="1200" stroke="rgba(0,0,0,0.042)" stroke-dasharray="4 4"/>
<line x1="685.16" y1="1024" x2="685.16" y2="1200" stroke="rgba(0,0,0,0.042)" stroke-dasharray="4 4"/>
<line x1="696.10" y1="1024" x2="696.10" y2="1200" stroke="rgba(0,0,0,0.042)" stroke-dasharray="4 4"/>
<line x1="707.03" y1="1024" x2="707.03" y2="1200" stroke="rgba(0,0,0,0.12)" stroke-dasharray="4 4"/>
<line x1="717.97" y1="1024" x2="717.97" y2="1200" stroke="rgba(0,0,0,0.042)" stroke-dasharray="4 4"/>
<line x1="728.91" y1="1024" x2="728.91" y2="1200" stroke="rgba(0,0,0,0.042)" stroke-dasharray="4 4"/>
<line x1="739.85" y1="1024" x2="739.85" y2="1200" stroke="rgba(0,0,0,0.042)" stroke-dasharray="4 4"/>
<line x1="750.78" y1="1024" x2="750.78" y2="1200" stroke="rgba(0,0,0,0.042)" stroke-dasharray="4 4"/>
<line x1="761.72" y1="1024" x2="761.72" y2="1200" stroke="rgba(0,0,0,0.12)" stroke-dasharray="4 4"/>
<line x1="772.66" y1="1024" x2="772.66" y2="1200" stroke="rgba(0,0,0,0.042)" stroke-dasharray="4 4"/>
<line x1="783.59" y1="1024" x2="783.59" y2="1200" stroke="rgba(0,0,0,0.042)" stroke-dasharray="4 4"/>
<line x1="794.53" y1="1024" x2="794.53" y2="1200" stroke="rgba(0,0,0,0.042)" stroke-dasharray="4 4"/>
<line x1="805.47" y1="1024" x2="805.47" y2="1200" stroke="rgba(0,0,0,0.042)" stroke-dasharray="4 4"/>
<line x1="816.40" y1="1024" x2="816.40" y2="1200" stroke="rgba(0,0,0,0.12)" stroke-dasharray="4 4"/>
<line x1="827.34" y1="1024" x2="827.34" y2="1200" stroke="rgba(0,0,0,0.042)" stroke-dasharray="4 4"/>
<line x1="838.28" y1="1024" x2="838.28" y2="1200" stroke="rgba(0,0,0,0.042)" stroke-dasharray="4 4"/>
<line x1="849.22" y1="1024" x2="849.22" y2="1200" stroke="rgba(0,0,0,0.042)" stroke-dasharray="4 4"/>
<line x1="860.15" y1="1024" x2="860.15" y2="1200" stroke="rgba(0,0,0,0.042)" stroke-dasharray="4 4"/>
<line x1="871.09" y1="1024" x2="871.09" y2="1200" stroke="rgba(0,0,0,0.12)" stroke-dasharray="4 4"/>
<line x1="882.03" y1="1024" x2="882.03" y2="1200" stroke="rgba(0,0,0,0.042)" stroke-dasharray="4 4"/>
<line x1="892.96" y1="1024" x2="892.96" y2="1200" stroke="rgba(0,0,0,0.042)" stroke-dasharray="4 4"/>
<line x1="903.90" y1="1024" x2="903.90" y2="1200" stroke="rgba(0,0,0,0.042)" stroke-dasharray="4 4"/>
<line x1="914.84" y1="1024" x2="914.84" y2="1200" stroke="rgba(0,0,0,0.042)" stroke-dasharray="4 4"/>
<line x1="925.77" y1="1024" x2="925.77" y2="1200" stroke="rgba(0,0,0,0.12)" stroke-dasharray="4 4"/>
<line x1="936.71" y1="1024" x2="936.71" y2="1200" stroke="rgba(0,0,0,0.042)" stroke-dasharray="4 4"/>
<line x1="947.65" y1="1024" x2="947.65" y2="1200" stroke="rgba(0,0,0,0.042)" stroke-dasharray="4 4"/>
<line x1="958.59" y1="1024" x2="958.59" y2="1200" stroke="rgba(0,0,0,0.042)" stroke-dasharray="4 4"/>
<line x1="969.52" y1="1024" x2="969.52" y2="1200" stroke="rgba(0,0,0,0.042)" stroke-dasharray="4 4"/>
<line x1="980.46" y1="1024" x2="980.46" y2="1200" stroke="rgba(0,0,0,0.12)" stroke-dasharray="4 4"/>
<line x1="991.40" y1="1024" x2="991.40" y2="1200" stroke="rgba(0,0,0,0.042)" stroke-dasharray="4 4"/>
<line x1="1002.33" y1="1024" x2="1002.33" y2="1200" stroke="rgba(0,0,0,0.042)" stroke-dasharray="4 4"/>
<line x1="1013.27" y1="1024" x2="1013.27" y2="1200" stroke="rgba(0,0,0,0.042)" stroke-dasharray="4 4"/>
<line x1="1024.21" y1="1024" x2="1024.21" y2="1200" stroke="rgba(0,0,0,0.042)" stroke-dasharray="4 4"/>
<line x1="1035.14" y1="1024" x2="1035.14" y2="1200" stroke="rgba(0,0,0,0.12)" stroke-dasharray="4 4"/>
<line x1="1046.08" y1="1024" x2="1046.08" y2="1200" stroke="rgba(0,0,0,0.042)" stroke-dasharray="4 4"/>
<line x1="1057.02" y1="1024" x2="1057.02" y2="1200" stroke="rgba(0,0,0,0.042)" stroke-dasharray="4 4"/>
<line x1="1067.96" y1="1024" x2="1067.96" y2="1200" stroke="rgba(0,0,0,0.042)" stroke-dasharray="4 4"/>
<line x1="1078.89" y1="1024" x2="1078.89" y2="1200" stroke="rgba(0,0,0,0.042)" stroke-dasharray="4 4"/>
<line x1="1089.83" y1="1024" x2="1089.83" y2="1200" stroke="rgba(0,0,0,0.12)" stroke-dasharray="4 4"/>
<line x1="1100.77" y1="1024" x2="1100.77" y2="1200" stroke="rgba(0,0,0,0.042)" stroke-dasharray="4 4"/>
<line x1="1111.70" y1="1024" x2="1111.70" y2="1200" stroke="rgba(0,0,0,0.042)" stroke-dasharray="4 4"/>
<line x1="1122.64" y1="1024" x2="1122.64" y2="1200" stroke="rgba(0,0,0,0.042)" stroke-dasharray="4 4"/>
<line x1="1133.58" y1="1024" x2="1133.58" y2="1200" stroke="rgba(0,0,0,0.042)" stroke-dasharray="4 4"/>
<line x1="1144.51" y1="1024" x2="1144.51" y2="1200" stroke="rgba(0,0,0,0.12)" stroke-dasharray="4 4"/>
<line x1="100.5" y1="1013" x2="100.5" y2="1201" stroke="#000"/>
<path d="M100.5 1012.7 L96.8 1020 L104.2 1020 Z" fill="#000"/>
<line x1="100" y1="1200.5" x2="1163" y2="1200.5" stroke="#000"/>
<path d="M1162 1200.5 L1155 1196.8 L1155 1204.2 Z" fill="#000"/>
<line x1="98" y1="1025.5" x2="103" y2="1025.5" stroke="#000"/>
<line x1="98" y1="1042.5" x2="100" y2="1042.5" stroke="#f00"/>
<text x="99.10" y="1029.90" font-size="11.15" text-anchor="end" textLength="38.5" lengthAdjust="spacingAndGlyphs">100.00</text>
<line x1="98" y1="1060.5" x2="103" y2="1060.5" stroke="#000"/>
<line x1="98" y1="1077.5" x2="100" y2="1077.5" stroke="#f00"/>
<text x="99.10" y="1064.90" font-size="11.15" text-anchor="end" textLength="31.6" lengthAdjust="spacingAndGlyphs">80.00</text>
<line x1="98" y1="1095.5" x2="103" y2="1095.5" stroke="#000"/>
<line x1="98" y1="1112.5" x2="100" y2="1112.5" stroke="#f00"/>
<text x="99.10" y="1099.90" font-size="11.15" text-anchor="end" textLength="31.6" lengthAdjust="spacingAndGlyphs">60.00</text>
<line x1="98" y1="1130.5" x2="103" y2="1130.5" stroke="#000"/>
<line x1="98" y1="1147.5" x2="100" y2="1147.5" stroke="#f00"/>
<text x="99.10" y="1134.90" font-size="11.15" text-anchor="end" textLength="31.6" lengthAdjust="spacingAndGlyphs">40.00</text>
<line x1="98" y1="1165.5" x2="103" y2="1165.5" stroke="#000"/>
<line x1="98" y1="1182.5" x2="100" y2="1182.5" stroke="#f00"/>
<text x="99.10" y="1169.90" font-size="11.15" text-anchor="end" textLength="31.6" lengthAdjust="spacingAndGlyphs">20.00</text>
<line x1="98" y1="1200.5" x2="103" y2="1200.5" stroke="#000"/>
<text x="99.10" y="1204.90" font-size="11.15" text-anchor="end" textLength="24.7" lengthAdjust="spacingAndGlyphs">0.00</text>
<line x1="105.50" y1="1198" x2="105.50" y2="1203" stroke="#000"/>
<text x="106.70" y="1213.40" font-size="11.15" text-anchor="middle" textLength="39.6" lengthAdjust="spacingAndGlyphs">26 Juin</text>
<line x1="116.44" y1="1201" x2="116.44" y2="1203" stroke="#bbb"/>
<line x1="127.37" y1="1201" x2="127.37" y2="1203" stroke="#bbb"/>
<line x1="138.31" y1="1201" x2="138.31" y2="1203" stroke="#bbb"/>
<line x1="149.25" y1="1201" x2="149.25" y2="1203" stroke="#bbb"/>
<line x1="160.19" y1="1198" x2="160.19" y2="1203" stroke="#000"/>
<text x="161.38" y="1213.40" font-size="11.15" text-anchor="middle" textLength="28.7" lengthAdjust="spacingAndGlyphs">3 Juil</text>
<line x1="171.12" y1="1201" x2="171.12" y2="1203" stroke="#bbb"/>
<line x1="182.06" y1="1201" x2="182.06" y2="1203" stroke="#bbb"/>
<line x1="193.00" y1="1201" x2="193.00" y2="1203" stroke="#bbb"/>
<line x1="203.93" y1="1201" x2="203.93" y2="1203" stroke="#bbb"/>
<line x1="214.87" y1="1198" x2="214.87" y2="1203" stroke="#000"/>
<text x="216.07" y="1213.40" font-size="11.15" text-anchor="middle" textLength="35.6" lengthAdjust="spacingAndGlyphs">10 Juil</text>
<line x1="225.81" y1="1201" x2="225.81" y2="1203" stroke="#bbb"/>
<line x1="236.74" y1="1201" x2="236.74" y2="1203" stroke="#bbb"/>
<line x1="247.68" y1="1201" x2="247.68" y2="1203" stroke="#bbb"/>
<line x1="258.62" y1="1201" x2="258.62" y2="1203" stroke="#bbb"/>
<line x1="269.55" y1="1198" x2="269.55" y2="1203" stroke="#000"/>
<text x="270.75" y="1213.40" font-size="11.15" text-anchor="middle" textLength="35.6" lengthAdjust="spacingAndGlyphs">17 Juil</text>
<line x1="280.49" y1="1201" x2="280.49" y2="1203" stroke="#bbb"/>
<line x1="291.43" y1="1201" x2="291.43" y2="1203" stroke="#bbb"/>
<line x1="302.37" y1="1201" x2="302.37" y2="1203" stroke="#bbb"/>
<line x1="313.30" y1="1201" x2="313.30" y2="1203" stroke="#bbb"/>
<line x1="324.24" y1="1198" x2="324.24" y2="1203" stroke="#000"/>
<text x="325.44" y="1213.40" font-size="11.15" text-anchor="middle" textLength="35.6" lengthAdjust="spacingAndGlyphs">24 Juil</text>
<line x1="335.18" y1="1201" x2="335.18" y2="1203" stroke="#bbb"/>
<line x1="346.11" y1="1201" x2="346.11" y2="1203" stroke="#bbb"/>
<line x1="357.05" y1="1201" x2="357.05" y2="1203" stroke="#bbb"/>
<line x1="367.99" y1="1201" x2="367.99" y2="1203" stroke="#bbb"/>
<line x1="378.93" y1="1198" x2="378.93" y2="1203" stroke="#000"/>
<text x="380.12" y="1213.40" font-size="11.15" text-anchor="middle" textLength="35.6" lengthAdjust="spacingAndGlyphs">31 Juil</text>
<line x1="389.86" y1="1201" x2="389.86" y2="1203" stroke="#bbb"/>
<line x1="400.80" y1="1201" x2="400.80" y2="1203" stroke="#bbb"/>
<line x1="411.74" y1="1201" x2="411.74" y2="1203" stroke="#bbb"/>
<line x1="422.67" y1="1201" x2="422.67" y2="1203" stroke="#bbb"/>
<line x1="433.61" y1="1198" x2="433.61" y2="1203" stroke="#000"/>
<text x="434.81" y="1214.30" font-size="11.15" text-anchor="middle" textLength="36.1" lengthAdjust="spacingAndGlyphs">7 Août</text>
<line x1="444.55" y1="1201" x2="444.55" y2="1203" stroke="#bbb"/>
<line x1="455.48" y1="1201" x2="455.48" y2="1203" stroke="#bbb"/>
<line x1="466.42" y1="1201" x2="466.42" y2="1203" stroke="#bbb"/>
<line x1="477.36" y1="1201" x2="477.36" y2="1203" stroke="#bbb"/>
<line x1="488.29" y1="1198" x2="488.29" y2="1203" stroke="#000"/>
<text x="489.49" y="1214.30" font-size="11.15" text-anchor="middle" textLength="43.1" lengthAdjust="spacingAndGlyphs">14 Août</text>
<line x1="499.23" y1="1201" x2="499.23" y2="1203" stroke="#bbb"/>
<line x1="510.17" y1="1201" x2="510.17" y2="1203" stroke="#bbb"/>
<line x1="521.11" y1="1201" x2="521.11" y2="1203" stroke="#bbb"/>
<line x1="532.04" y1="1201" x2="532.04" y2="1203" stroke="#bbb"/>
<line x1="542.98" y1="1198" x2="542.98" y2="1203" stroke="#000"/>
<text x="544.18" y="1214.30" font-size="11.15" text-anchor="middle" textLength="43.1" lengthAdjust="spacingAndGlyphs">21 Août</text>
<line x1="553.92" y1="1201" x2="553.92" y2="1203" stroke="#bbb"/>
<line x1="564.85" y1="1201" x2="564.85" y2="1203" stroke="#bbb"/>
<line x1="575.79" y1="1201" x2="575.79" y2="1203" stroke="#bbb"/>
<line x1="586.73" y1="1201" x2="586.73" y2="1203" stroke="#bbb"/>
<line x1="597.66" y1="1198" x2="597.66" y2="1203" stroke="#000"/>
<text x="598.87" y="1214.30" font-size="11.15" text-anchor="middle" textLength="43.1" lengthAdjust="spacingAndGlyphs">28 Août</text>
<line x1="608.60" y1="1201" x2="608.60" y2="1203" stroke="#bbb"/>
<line x1="619.54" y1="1201" x2="619.54" y2="1203" stroke="#bbb"/>
<line x1="630.48" y1="1201" x2="630.48" y2="1203" stroke="#bbb"/>
<line x1="641.41" y1="1201" x2="641.41" y2="1203" stroke="#bbb"/>
<line x1="652.35" y1="1198" x2="652.35" y2="1203" stroke="#000"/>
<text x="653.55" y="1213.40" font-size="11.15" text-anchor="middle" textLength="35.9" lengthAdjust="spacingAndGlyphs">4 Sept</text>
<line x1="663.29" y1="1201" x2="663.29" y2="1203" stroke="#bbb"/>
<line x1="674.22" y1="1201" x2="674.22" y2="1203" stroke="#bbb"/>
<line x1="685.16" y1="1201" x2="685.16" y2="1203" stroke="#bbb"/>
<line x1="696.10" y1="1201" x2="696.10" y2="1203" stroke="#bbb"/>
<line x1="707.03" y1="1198" x2="707.03" y2="1203" stroke="#000"/>
<text x="708.24" y="1213.40" font-size="11.15" text-anchor="middle" textLength="42.9" lengthAdjust="spacingAndGlyphs">11 Sept</text>
<line x1="717.97" y1="1201" x2="717.97" y2="1203" stroke="#bbb"/>
<line x1="728.91" y1="1201" x2="728.91" y2="1203" stroke="#bbb"/>
<line x1="739.85" y1="1201" x2="739.85" y2="1203" stroke="#bbb"/>
<line x1="750.78" y1="1201" x2="750.78" y2="1203" stroke="#bbb"/>
<line x1="761.72" y1="1198" x2="761.72" y2="1203" stroke="#000"/>
<text x="762.92" y="1213.40" font-size="11.15" text-anchor="middle" textLength="42.9" lengthAdjust="spacingAndGlyphs">18 Sept</text>
<line x1="772.66" y1="1201" x2="772.66" y2="1203" stroke="#bbb"/>
<line x1="783.59" y1="1201" x2="783.59" y2="1203" stroke="#bbb"/>
<line x1="794.53" y1="1201" x2="794.53" y2="1203" stroke="#bbb"/>
<line x1="805.47" y1="1201" x2="805.47" y2="1203" stroke="#bbb"/>
<line x1="816.40" y1="1198" x2="816.40" y2="1203" stroke="#000"/>
<text x="817.61" y="1213.40" font-size="11.15" text-anchor="middle" textLength="42.9" lengthAdjust="spacingAndGlyphs">25 Sept</text>
<line x1="827.34" y1="1201" x2="827.34" y2="1203" stroke="#bbb"/>
<line x1="838.28" y1="1201" x2="838.28" y2="1203" stroke="#bbb"/>
<line x1="849.22" y1="1201" x2="849.22" y2="1203" stroke="#bbb"/>
<line x1="860.15" y1="1201" x2="860.15" y2="1203" stroke="#bbb"/>
<line x1="871.09" y1="1198" x2="871.09" y2="1203" stroke="#000"/>
<text x="872.29" y="1213.40" font-size="11.15" text-anchor="middle" textLength="29.4" lengthAdjust="spacingAndGlyphs">2 Oct</text>
<line x1="882.03" y1="1201" x2="882.03" y2="1203" stroke="#bbb"/>
<line x1="892.96" y1="1201" x2="892.96" y2="1203" stroke="#bbb"/>
<line x1="903.90" y1="1201" x2="903.90" y2="1203" stroke="#bbb"/>
<line x1="914.84" y1="1201" x2="914.84" y2="1203" stroke="#bbb"/>
<line x1="925.77" y1="1198" x2="925.77" y2="1203" stroke="#000"/>
<text x="926.98" y="1213.40" font-size="11.15" text-anchor="middle" textLength="29.4" lengthAdjust="spacingAndGlyphs">9 Oct</text>
<line x1="936.71" y1="1201" x2="936.71" y2="1203" stroke="#bbb"/>
<line x1="947.65" y1="1201" x2="947.65" y2="1203" stroke="#bbb"/>
<line x1="958.59" y1="1201" x2="958.59" y2="1203" stroke="#bbb"/>
<line x1="969.52" y1="1201" x2="969.52" y2="1203" stroke="#bbb"/>
<line x1="980.46" y1="1198" x2="980.46" y2="1203" stroke="#000"/>
<text x="981.66" y="1213.40" font-size="11.15" text-anchor="middle" textLength="36.4" lengthAdjust="spacingAndGlyphs">16 Oct</text>
<line x1="991.40" y1="1201" x2="991.40" y2="1203" stroke="#bbb"/>
<line x1="1002.33" y1="1201" x2="1002.33" y2="1203" stroke="#bbb"/>
<line x1="1013.27" y1="1201" x2="1013.27" y2="1203" stroke="#bbb"/>
<line x1="1024.21" y1="1201" x2="1024.21" y2="1203" stroke="#bbb"/>
<line x1="1035.14" y1="1198" x2="1035.14" y2="1203" stroke="#000"/>
<text x="1036.35" y="1213.40" font-size="11.15" text-anchor="middle" textLength="36.4" lengthAdjust="spacingAndGlyphs">23 Oct</text>
<line x1="1046.08" y1="1201" x2="1046.08" y2="1203" stroke="#bbb"/>
<line x1="1057.02" y1="1201" x2="1057.02" y2="1203" stroke="#bbb"/>
<line x1="1067.96" y1="1201" x2="1067.96" y2="1203" stroke="#bbb"/>
<line x1="1078.89" y1="1201" x2="1078.89" y2="1203" stroke="#bbb"/>
<line x1="1089.83" y1="1198" x2="1089.83" y2="1203" stroke="#000"/>
<text x="1091.03" y="1213.40" font-size="11.15" text-anchor="middle" textLength="36.4" lengthAdjust="spacingAndGlyphs">30 Oct</text>
<line x1="1100.77" y1="1201" x2="1100.77" y2="1203" stroke="#bbb"/>
<line x1="1111.70" y1="1201" x2="1111.70" y2="1203" stroke="#bbb"/>
<line x1="1122.64" y1="1201" x2="1122.64" y2="1203" stroke="#bbb"/>
<line x1="1133.58" y1="1201" x2="1133.58" y2="1203" stroke="#bbb"/>
<line x1="1144.51" y1="1198" x2="1144.51" y2="1203" stroke="#000"/>
<text x="1145.71" y="1213.40" font-size="11.15" text-anchor="middle" textLength="32.1" lengthAdjust="spacingAndGlyphs">6 Nov</text>
<text x="626.30" y="1226.70" font-size="11.1" text-anchor="middle" textLength="253.5" lengthAdjust="spacingAndGlyphs">Date (du 26 Juin 2015 au 6 Novembre 2015)</text>
<text transform="translate(58,1110.3) rotate(-90)" font-size="11.15" text-anchor="middle" textLength="20" lengthAdjust="spacingAndGlyphs" stroke="#000" stroke-width="0.15">RSI</text>
<text x="111.2" y="995" font-size="25.5" textLength="44.1" lengthAdjust="spacingAndGlyphs">Bic:</text>
<text x="165.2" y="995" font-size="25.5" textLength="121.1" lengthAdjust="spacingAndGlyphs">graphique</text>
<text x="295.2" y="995" font-size="25.5" textLength="29.6" lengthAdjust="spacingAndGlyphs">du</text>
<text x="330.7" y="995" font-size="25.5" textLength="43.9" lengthAdjust="spacingAndGlyphs">RSI</text>
<text x="382.2" y="995" font-size="25.5" textLength="11.1" lengthAdjust="spacingAndGlyphs">-</text>
<text x="400.0" y="995" font-size="25.5" textLength="94.6" lengthAdjust="spacingAndGlyphs">RSI(14)</text>
<text x="504.0" y="995" font-size="25.5" textLength="10.8" lengthAdjust="spacingAndGlyphs">-</text>
<text x="520.2" y="995" font-size="25.5" textLength="209.9" lengthAdjust="spacingAndGlyphs">AnalyBourse.com</text>
<line x1="105" y1="1112.5" x2="1145" y2="1112.5" stroke="#6e6e6e"/>
<polyline points="105.5,1097.0 116.4,1115.0 127.4,1125.5 138.3,1112.0 149.2,1124.5 160.2,1121.0 171.1,1125.5 182.1,1129.5 193.0,1127.0 203.9,1118.0 214.9,1112.5 225.8,1102.5 236.7,1098.2 247.7,1097.8 258.6,1086.0 269.6,1089.0 280.5,1086.2 291.4,1091.2 302.4,1095.5 313.3,1094.2 324.2,1093.5 335.2,1113.2 346.1,1111.5 357.1,1110.0 368.0,1094.5 378.9,1089.5 389.9,1078.0 400.8,1084.2 411.7,1085.0 422.7,1086.0 433.6,1101.2 444.5,1095.0 455.5,1113.2 466.4,1124.5 477.4,1118.8 488.3,1113.2 499.2,1110.5 510.2,1109.2 521.1,1113.0 532.0,1125.8 543.0,1137.5 553.9,1149.5 564.9,1134.5 575.8,1134.2 586.7,1127.5 597.7,1126.2 608.6,1130.5 619.5,1135.0 630.5,1136.2 641.4,1126.5 652.4,1133.5 663.3,1133.5 674.2,1132.5 685.2,1119.2 696.1,1123.8 707.0,1128.0 718.0,1129.2 728.9,1131.0 739.8,1118.5 750.8,1118.0 761.7,1128.0 772.7,1120.5 783.6,1128.0 794.5,1126.2 805.5,1135.0 816.4,1120.5 827.3,1121.8 838.3,1127.5 849.2,1117.5 860.2,1123.5 871.1,1118.0 882.0,1110.5 893.0,1112.5 903.9,1127.0 914.8,1127.0 925.8,1123.8 936.7,1123.8 947.6,1129.2 958.6,1129.5 969.5,1114.5 980.5,1109.0 991.4,1106.2 1002.3,1110.5 1013.3,1111.0 1024.2,1098.0 1035.1,1090.0 1046.1,1097.5 1057.0,1093.0 1068.0,1090.2 1078.9,1090.2 1089.8,1092.0 1100.8,1094.2 1111.7,1093.2 1122.6,1085.0 1133.6,1080.0 1144.5,1075.0" fill="none" stroke="#f74545" stroke-width="0.9" stroke-linejoin="round"/>
<rect x="101" y="1457.25" width="1049.5" height="21.88" fill="#f8f8f8"/>
<rect x="101" y="1413.50" width="1049.5" height="21.88" fill="#f8f8f8"/>
<rect x="101" y="1369.75" width="1049.5" height="21.88" fill="#f8f8f8"/>
<rect x="101" y="1326.00" width="1049.5" height="21.88" fill="#f8f8f8"/>
<line x1="107" y1="1325.5" x2="1150.5" y2="1325.5" stroke="rgba(0,0,0,0.105)" stroke-dasharray="4 4"/>
<line x1="107" y1="1346.5" x2="1150.5" y2="1346.5" stroke="rgba(0,0,0,0.105)" stroke-dasharray="4 4"/>
<line x1="107" y1="1368.5" x2="1150.5" y2="1368.5" stroke="rgba(0,0,0,0.105)" stroke-dasharray="4 4"/>
<line x1="107" y1="1390.5" x2="1150.5" y2="1390.5" stroke="rgba(0,0,0,0.105)" stroke-dasharray="4 4"/>
<line x1="107" y1="1412.5" x2="1150.5" y2="1412.5" stroke="rgba(0,0,0,0.105)" stroke-dasharray="4 4"/>
<line x1="107" y1="1434.5" x2="1150.5" y2="1434.5" stroke="rgba(0,0,0,0.105)" stroke-dasharray="4 4"/>
<line x1="107" y1="1456.5" x2="1150.5" y2="1456.5" stroke="rgba(0,0,0,0.105)" stroke-dasharray="4 4"/>
<line x1="107" y1="1478.5" x2="1150.5" y2="1478.5" stroke="rgba(0,0,0,0.105)" stroke-dasharray="4 4"/>
<line x1="105.50" y1="1324" x2="105.50" y2="1500" stroke="rgba(0,0,0,0.12)" stroke-dasharray="4 4"/>
<line x1="116.44" y1="1324" x2="116.44" y2="1500" stroke="rgba(0,0,0,0.042)" stroke-dasharray="4 4"/>
<line x1="127.37" y1="1324" x2="127.37" y2="1500" stroke="rgba(0,0,0,0.042)" stroke-dasharray="4 4"/>
<line x1="138.31" y1="1324" x2="138.31" y2="1500" stroke="rgba(0,0,0,0.042)" stroke-dasharray="4 4"/>
<line x1="149.25" y1="1324" x2="149.25" y2="1500" stroke="rgba(0,0,0,0.042)" stroke-dasharray="4 4"/>
<line x1="160.19" y1="1324" x2="160.19" y2="1500" stroke="rgba(0,0,0,0.12)" stroke-dasharray="4 4"/>
<line x1="171.12" y1="1324" x2="171.12" y2="1500" stroke="rgba(0,0,0,0.042)" stroke-dasharray="4 4"/>
<line x1="182.06" y1="1324" x2="182.06" y2="1500" stroke="rgba(0,0,0,0.042)" stroke-dasharray="4 4"/>
<line x1="193.00" y1="1324" x2="193.00" y2="1500" stroke="rgba(0,0,0,0.042)" stroke-dasharray="4 4"/>
<line x1="203.93" y1="1324" x2="203.93" y2="1500" stroke="rgba(0,0,0,0.042)" stroke-dasharray="4 4"/>
<line x1="214.87" y1="1324" x2="214.87" y2="1500" stroke="rgba(0,0,0,0.12)" stroke-dasharray="4 4"/>
<line x1="225.81" y1="1324" x2="225.81" y2="1500" stroke="rgba(0,0,0,0.042)" stroke-dasharray="4 4"/>
<line x1="236.74" y1="1324" x2="236.74" y2="1500" stroke="rgba(0,0,0,0.042)" stroke-dasharray="4 4"/>
<line x1="247.68" y1="1324" x2="247.68" y2="1500" stroke="rgba(0,0,0,0.042)" stroke-dasharray="4 4"/>
<line x1="258.62" y1="1324" x2="258.62" y2="1500" stroke="rgba(0,0,0,0.042)" stroke-dasharray="4 4"/>
<line x1="269.55" y1="1324" x2="269.55" y2="1500" stroke="rgba(0,0,0,0.12)" stroke-dasharray="4 4"/>
<line x1="280.49" y1="1324" x2="280.49" y2="1500" stroke="rgba(0,0,0,0.042)" stroke-dasharray="4 4"/>
<line x1="291.43" y1="1324" x2="291.43" y2="1500" stroke="rgba(0,0,0,0.042)" stroke-dasharray="4 4"/>
<line x1="302.37" y1="1324" x2="302.37" y2="1500" stroke="rgba(0,0,0,0.042)" stroke-dasharray="4 4"/>
<line x1="313.30" y1="1324" x2="313.30" y2="1500" stroke="rgba(0,0,0,0.042)" stroke-dasharray="4 4"/>
<line x1="324.24" y1="1324" x2="324.24" y2="1500" stroke="rgba(0,0,0,0.12)" stroke-dasharray="4 4"/>
<line x1="335.18" y1="1324" x2="335.18" y2="1500" stroke="rgba(0,0,0,0.042)" stroke-dasharray="4 4"/>
<line x1="346.11" y1="1324" x2="346.11" y2="1500" stroke="rgba(0,0,0,0.042)" stroke-dasharray="4 4"/>
<line x1="357.05" y1="1324" x2="357.05" y2="1500" stroke="rgba(0,0,0,0.042)" stroke-dasharray="4 4"/>
<line x1="367.99" y1="1324" x2="367.99" y2="1500" stroke="rgba(0,0,0,0.042)" stroke-dasharray="4 4"/>
<line x1="378.93" y1="1324" x2="378.93" y2="1500" stroke="rgba(0,0,0,0.12)" stroke-dasharray="4 4"/>
<line x1="389.86" y1="1324" x2="389.86" y2="1500" stroke="rgba(0,0,0,0.042)" stroke-dasharray="4 4"/>
<line x1="400.80" y1="1324" x2="400.80" y2="1500" stroke="rgba(0,0,0,0.042)" stroke-dasharray="4 4"/>
<line x1="411.74" y1="1324" x2="411.74" y2="1500" stroke="rgba(0,0,0,0.042)" stroke-dasharray="4 4"/>
<line x1="422.67" y1="1324" x2="422.67" y2="1500" stroke="rgba(0,0,0,0.042)" stroke-dasharray="4 4"/>
<line x1="433.61" y1="1324" x2="433.61" y2="1500" stroke="rgba(0,0,0,0.12)" stroke-dasharray="4 4"/>
<line x1="444.55" y1="1324" x2="444.55" y2="1500" stroke="rgba(0,0,0,0.042)" stroke-dasharray="4 4"/>
<line x1="455.48" y1="1324" x2="455.48" y2="1500" stroke="rgba(0,0,0,0.042)" stroke-dasharray="4 4"/>
<line x1="466.42" y1="1324" x2="466.42" y2="1500" stroke="rgba(0,0,0,0.042)" stroke-dasharray="4 4"/>
<line x1="477.36" y1="1324" x2="477.36" y2="1500" stroke="rgba(0,0,0,0.042)" stroke-dasharray="4 4"/>
<line x1="488.29" y1="1324" x2="488.29" y2="1500" stroke="rgba(0,0,0,0.12)" stroke-dasharray="4 4"/>
<line x1="499.23" y1="1324" x2="499.23" y2="1500" stroke="rgba(0,0,0,0.042)" stroke-dasharray="4 4"/>
<line x1="510.17" y1="1324" x2="510.17" y2="1500" stroke="rgba(0,0,0,0.042)" stroke-dasharray="4 4"/>
<line x1="521.11" y1="1324" x2="521.11" y2="1500" stroke="rgba(0,0,0,0.042)" stroke-dasharray="4 4"/>
<line x1="532.04" y1="1324" x2="532.04" y2="1500" stroke="rgba(0,0,0,0.042)" stroke-dasharray="4 4"/>
<line x1="542.98" y1="1324" x2="542.98" y2="1500" stroke="rgba(0,0,0,0.12)" stroke-dasharray="4 4"/>
<line x1="553.92" y1="1324" x2="553.92" y2="1500" stroke="rgba(0,0,0,0.042)" stroke-dasharray="4 4"/>
<line x1="564.85" y1="1324" x2="564.85" y2="1500" stroke="rgba(0,0,0,0.042)" stroke-dasharray="4 4"/>
<line x1="575.79" y1="1324" x2="575.79" y2="1500" stroke="rgba(0,0,0,0.042)" stroke-dasharray="4 4"/>
<line x1="586.73" y1="1324" x2="586.73" y2="1500" stroke="rgba(0,0,0,0.042)" stroke-dasharray="4 4"/>
<line x1="597.66" y1="1324" x2="597.66" y2="1500" stroke="rgba(0,0,0,0.12)" stroke-dasharray="4 4"/>
<line x1="608.60" y1="1324" x2="608.60" y2="1500" stroke="rgba(0,0,0,0.042)" stroke-dasharray="4 4"/>
<line x1="619.54" y1="1324" x2="619.54" y2="1500" stroke="rgba(0,0,0,0.042)" stroke-dasharray="4 4"/>
<line x1="630.48" y1="1324" x2="630.48" y2="1500" stroke="rgba(0,0,0,0.042)" stroke-dasharray="4 4"/>
<line x1="641.41" y1="1324" x2="641.41" y2="1500" stroke="rgba(0,0,0,0.042)" stroke-dasharray="4 4"/>
<line x1="652.35" y1="1324" x2="652.35" y2="1500" stroke="rgba(0,0,0,0.12)" stroke-dasharray="4 4"/>
<line x1="663.29" y1="1324" x2="663.29" y2="1500" stroke="rgba(0,0,0,0.042)" stroke-dasharray="4 4"/>
<line x1="674.22" y1="1324" x2="674.22" y2="1500" stroke="rgba(0,0,0,0.042)" stroke-dasharray="4 4"/>
<line x1="685.16" y1="1324" x2="685.16" y2="1500" stroke="rgba(0,0,0,0.042)" stroke-dasharray="4 4"/>
<line x1="696.10" y1="1324" x2="696.10" y2="1500" stroke="rgba(0,0,0,0.042)" stroke-dasharray="4 4"/>
<line x1="707.03" y1="1324" x2="707.03" y2="1500" stroke="rgba(0,0,0,0.12)" stroke-dasharray="4 4"/>
<line x1="717.97" y1="1324" x2="717.97" y2="1500" stroke="rgba(0,0,0,0.042)" stroke-dasharray="4 4"/>
<line x1="728.91" y1="1324" x2="728.91" y2="1500" stroke="rgba(0,0,0,0.042)" stroke-dasharray="4 4"/>
<line x1="739.85" y1="1324" x2="739.85" y2="1500" stroke="rgba(0,0,0,0.042)" stroke-dasharray="4 4"/>
<line x1="750.78" y1="1324" x2="750.78" y2="1500" stroke="rgba(0,0,0,0.042)" stroke-dasharray="4 4"/>
<line x1="761.72" y1="1324" x2="761.72" y2="1500" stroke="rgba(0,0,0,0.12)" stroke-dasharray="4 4"/>
<line x1="772.66" y1="1324" x2="772.66" y2="1500" stroke="rgba(0,0,0,0.042)" stroke-dasharray="4 4"/>
<line x1="783.59" y1="1324" x2="783.59" y2="1500" stroke="rgba(0,0,0,0.042)" stroke-dasharray="4 4"/>
<line x1="794.53" y1="1324" x2="794.53" y2="1500" stroke="rgba(0,0,0,0.042)" stroke-dasharray="4 4"/>
<line x1="805.47" y1="1324" x2="805.47" y2="1500" stroke="rgba(0,0,0,0.042)" stroke-dasharray="4 4"/>
<line x1="816.40" y1="1324" x2="816.40" y2="1500" stroke="rgba(0,0,0,0.12)" stroke-dasharray="4 4"/>
<line x1="827.34" y1="1324" x2="827.34" y2="1500" stroke="rgba(0,0,0,0.042)" stroke-dasharray="4 4"/>
<line x1="838.28" y1="1324" x2="838.28" y2="1500" stroke="rgba(0,0,0,0.042)" stroke-dasharray="4 4"/>
<line x1="849.22" y1="1324" x2="849.22" y2="1500" stroke="rgba(0,0,0,0.042)" stroke-dasharray="4 4"/>
<line x1="860.15" y1="1324" x2="860.15" y2="1500" stroke="rgba(0,0,0,0.042)" stroke-dasharray="4 4"/>
<line x1="871.09" y1="1324" x2="871.09" y2="1500" stroke="rgba(0,0,0,0.12)" stroke-dasharray="4 4"/>
<line x1="882.03" y1="1324" x2="882.03" y2="1500" stroke="rgba(0,0,0,0.042)" stroke-dasharray="4 4"/>
<line x1="892.96" y1="1324" x2="892.96" y2="1500" stroke="rgba(0,0,0,0.042)" stroke-dasharray="4 4"/>
<line x1="903.90" y1="1324" x2="903.90" y2="1500" stroke="rgba(0,0,0,0.042)" stroke-dasharray="4 4"/>
<line x1="914.84" y1="1324" x2="914.84" y2="1500" stroke="rgba(0,0,0,0.042)" stroke-dasharray="4 4"/>
<line x1="925.77" y1="1324" x2="925.77" y2="1500" stroke="rgba(0,0,0,0.12)" stroke-dasharray="4 4"/>
<line x1="936.71" y1="1324" x2="936.71" y2="1500" stroke="rgba(0,0,0,0.042)" stroke-dasharray="4 4"/>
<line x1="947.65" y1="1324" x2="947.65" y2="1500" stroke="rgba(0,0,0,0.042)" stroke-dasharray="4 4"/>
<line x1="958.59" y1="1324" x2="958.59" y2="1500" stroke="rgba(0,0,0,0.042)" stroke-dasharray="4 4"/>
<line x1="969.52" y1="1324" x2="969.52" y2="1500" stroke="rgba(0,0,0,0.042)" stroke-dasharray="4 4"/>
<line x1="980.46" y1="1324" x2="980.46" y2="1500" stroke="rgba(0,0,0,0.12)" stroke-dasharray="4 4"/>
<line x1="991.40" y1="1324" x2="991.40" y2="1500" stroke="rgba(0,0,0,0.042)" stroke-dasharray="4 4"/>
<line x1="1002.33" y1="1324" x2="1002.33" y2="1500" stroke="rgba(0,0,0,0.042)" stroke-dasharray="4 4"/>
<line x1="1013.27" y1="1324" x2="1013.27" y2="1500" stroke="rgba(0,0,0,0.042)" stroke-dasharray="4 4"/>
<line x1="1024.21" y1="1324" x2="1024.21" y2="1500" stroke="rgba(0,0,0,0.042)" stroke-dasharray="4 4"/>
<line x1="1035.14" y1="1324" x2="1035.14" y2="1500" stroke="rgba(0,0,0,0.12)" stroke-dasharray="4 4"/>
<line x1="1046.08" y1="1324" x2="1046.08" y2="1500" stroke="rgba(0,0,0,0.042)" stroke-dasharray="4 4"/>
<line x1="1057.02" y1="1324" x2="1057.02" y2="1500" stroke="rgba(0,0,0,0.042)" stroke-dasharray="4 4"/>
<line x1="1067.96" y1="1324" x2="1067.96" y2="1500" stroke="rgba(0,0,0,0.042)" stroke-dasharray="4 4"/>
<line x1="1078.89" y1="1324" x2="1078.89" y2="1500" stroke="rgba(0,0,0,0.042)" stroke-dasharray="4 4"/>
<line x1="1089.83" y1="1324" x2="1089.83" y2="1500" stroke="rgba(0,0,0,0.12)" stroke-dasharray="4 4"/>
<line x1="1100.77" y1="1324" x2="1100.77" y2="1500" stroke="rgba(0,0,0,0.042)" stroke-dasharray="4 4"/>
<line x1="1111.70" y1="1324" x2="1111.70" y2="1500" stroke="rgba(0,0,0,0.042)" stroke-dasharray="4 4"/>
<line x1="1122.64" y1="1324" x2="1122.64" y2="1500" stroke="rgba(0,0,0,0.042)" stroke-dasharray="4 4"/>
<line x1="1133.58" y1="1324" x2="1133.58" y2="1500" stroke="rgba(0,0,0,0.042)" stroke-dasharray="4 4"/>
<line x1="1144.51" y1="1324" x2="1144.51" y2="1500" stroke="rgba(0,0,0,0.12)" stroke-dasharray="4 4"/>
<line x1="100.5" y1="1313" x2="100.5" y2="1501" stroke="#000"/>
<path d="M100.5 1312.7 L96.8 1320 L104.2 1320 Z" fill="#000"/>
<line x1="100" y1="1500.5" x2="1163" y2="1500.5" stroke="#000"/>
<path d="M1162 1500.5 L1155 1496.8 L1155 1504.2 Z" fill="#000"/>
<line x1="98" y1="1325.5" x2="103" y2="1325.5" stroke="#000"/>
<line x1="98" y1="1335.5" x2="100" y2="1335.5" stroke="#f00"/>
<text x="99.10" y="1329.90" font-size="11.15" text-anchor="end" textLength="24.7" lengthAdjust="spacingAndGlyphs">1.50</text>
<line x1="98" y1="1346.5" x2="103" y2="1346.5" stroke="#000"/>
<line x1="98" y1="1357.5" x2="100" y2="1357.5" stroke="#f00"/>
<text x="99.10" y="1350.90" font-size="11.15" text-anchor="end" textLength="24.7" lengthAdjust="spacingAndGlyphs">1.00</text>
<line x1="98" y1="1368.5" x2="103" y2="1368.5" stroke="#000"/>
<line x1="98" y1="1379.5" x2="100" y2="1379.5" stroke="#f00"/>
<text x="99.10" y="1372.90" font-size="11.15" text-anchor="end" textLength="24.7" lengthAdjust="spacingAndGlyphs">0.50</text>
<line x1="98" y1="1390.5" x2="103" y2="1390.5" stroke="#000"/>
<line x1="98" y1="1401.5" x2="100" y2="1401.5" stroke="#f00"/>
<text x="99.10" y="1394.90" font-size="11.15" text-anchor="end" textLength="24.7" lengthAdjust="spacingAndGlyphs">0.00</text>
<line x1="98" y1="1412.5" x2="103" y2="1412.5" stroke="#000"/>
<line x1="98" y1="1423.5" x2="100" y2="1423.5" stroke="#f00"/>
<text x="99.10" y="1416.90" font-size="11.15" text-anchor="end" textLength="29.7" lengthAdjust="spacingAndGlyphs">-0.50</text>
<line x1="98" y1="1434.5" x2="103" y2="1434.5" stroke="#000"/>
<line x1="98" y1="1445.5" x2="100" y2="1445.5" stroke="#f00"/>
<text x="99.10" y="1438.90" font-size="11.15" text-anchor="end" textLength="29.7" lengthAdjust="spacingAndGlyphs">-1.00</text>
<line x1="98" y1="1456.5" x2="103" y2="1456.5" stroke="#000"/>
<line x1="98" y1="1467.5" x2="100" y2="1467.5" stroke="#f00"/>
<text x="99.10" y="1460.90" font-size="11.15" text-anchor="end" textLength="29.7" lengthAdjust="spacingAndGlyphs">-1.50</text>
<line x1="98" y1="1478.5" x2="103" y2="1478.5" stroke="#000"/>
<line x1="98" y1="1489.5" x2="100" y2="1489.5" stroke="#f00"/>
<text x="99.10" y="1482.90" font-size="11.15" text-anchor="end" textLength="29.7" lengthAdjust="spacingAndGlyphs">-2.00</text>
<line x1="98" y1="1500.5" x2="103" y2="1500.5" stroke="#000"/>
<text x="99.10" y="1504.90" font-size="11.15" text-anchor="end" textLength="29.7" lengthAdjust="spacingAndGlyphs">-2.50</text>
<line x1="105.50" y1="1498" x2="105.50" y2="1503" stroke="#000"/>
<text x="106.70" y="1513.40" font-size="11.15" text-anchor="middle" textLength="39.6" lengthAdjust="spacingAndGlyphs">26 Juin</text>
<line x1="116.44" y1="1501" x2="116.44" y2="1503" stroke="#bbb"/>
<line x1="127.37" y1="1501" x2="127.37" y2="1503" stroke="#bbb"/>
<line x1="138.31" y1="1501" x2="138.31" y2="1503" stroke="#bbb"/>
<line x1="149.25" y1="1501" x2="149.25" y2="1503" stroke="#bbb"/>
<line x1="160.19" y1="1498" x2="160.19" y2="1503" stroke="#000"/>
<text x="161.38" y="1513.40" font-size="11.15" text-anchor="middle" textLength="28.7" lengthAdjust="spacingAndGlyphs">3 Juil</text>
<line x1="171.12" y1="1501" x2="171.12" y2="1503" stroke="#bbb"/>
<line x1="182.06" y1="1501" x2="182.06" y2="1503" stroke="#bbb"/>
<line x1="193.00" y1="1501" x2="193.00" y2="1503" stroke="#bbb"/>
<line x1="203.93" y1="1501" x2="203.93" y2="1503" stroke="#bbb"/>
<line x1="214.87" y1="1498" x2="214.87" y2="1503" stroke="#000"/>
<text x="216.07" y="1513.40" font-size="11.15" text-anchor="middle" textLength="35.6" lengthAdjust="spacingAndGlyphs">10 Juil</text>
<line x1="225.81" y1="1501" x2="225.81" y2="1503" stroke="#bbb"/>
<line x1="236.74" y1="1501" x2="236.74" y2="1503" stroke="#bbb"/>
<line x1="247.68" y1="1501" x2="247.68" y2="1503" stroke="#bbb"/>
<line x1="258.62" y1="1501" x2="258.62" y2="1503" stroke="#bbb"/>
<line x1="269.55" y1="1498" x2="269.55" y2="1503" stroke="#000"/>
<text x="270.75" y="1513.40" font-size="11.15" text-anchor="middle" textLength="35.6" lengthAdjust="spacingAndGlyphs">17 Juil</text>
<line x1="280.49" y1="1501" x2="280.49" y2="1503" stroke="#bbb"/>
<line x1="291.43" y1="1501" x2="291.43" y2="1503" stroke="#bbb"/>
<line x1="302.37" y1="1501" x2="302.37" y2="1503" stroke="#bbb"/>
<line x1="313.30" y1="1501" x2="313.30" y2="1503" stroke="#bbb"/>
<line x1="324.24" y1="1498" x2="324.24" y2="1503" stroke="#000"/>
<text x="325.44" y="1513.40" font-size="11.15" text-anchor="middle" textLength="35.6" lengthAdjust="spacingAndGlyphs">24 Juil</text>
<line x1="335.18" y1="1501" x2="335.18" y2="1503" stroke="#bbb"/>
<line x1="346.11" y1="1501" x2="346.11" y2="1503" stroke="#bbb"/>
<line x1="357.05" y1="1501" x2="357.05" y2="1503" stroke="#bbb"/>
<line x1="367.99" y1="1501" x2="367.99" y2="1503" stroke="#bbb"/>
<line x1="378.93" y1="1498" x2="378.93" y2="1503" stroke="#000"/>
<text x="380.12" y="1513.40" font-size="11.15" text-anchor="middle" textLength="35.6" lengthAdjust="spacingAndGlyphs">31 Juil</text>
<line x1="389.86" y1="1501" x2="389.86" y2="1503" stroke="#bbb"/>
<line x1="400.80" y1="1501" x2="400.80" y2="1503" stroke="#bbb"/>
<line x1="411.74" y1="1501" x2="411.74" y2="1503" stroke="#bbb"/>
<line x1="422.67" y1="1501" x2="422.67" y2="1503" stroke="#bbb"/>
<line x1="433.61" y1="1498" x2="433.61" y2="1503" stroke="#000"/>
<text x="434.81" y="1514.30" font-size="11.15" text-anchor="middle" textLength="36.1" lengthAdjust="spacingAndGlyphs">7 Août</text>
<line x1="444.55" y1="1501" x2="444.55" y2="1503" stroke="#bbb"/>
<line x1="455.48" y1="1501" x2="455.48" y2="1503" stroke="#bbb"/>
<line x1="466.42" y1="1501" x2="466.42" y2="1503" stroke="#bbb"/>
<line x1="477.36" y1="1501" x2="477.36" y2="1503" stroke="#bbb"/>
<line x1="488.29" y1="1498" x2="488.29" y2="1503" stroke="#000"/>
<text x="489.49" y="1514.30" font-size="11.15" text-anchor="middle" textLength="43.1" lengthAdjust="spacingAndGlyphs">14 Août</text>
<line x1="499.23" y1="1501" x2="499.23" y2="1503" stroke="#bbb"/>
<line x1="510.17" y1="1501" x2="510.17" y2="1503" stroke="#bbb"/>
<line x1="521.11" y1="1501" x2="521.11" y2="1503" stroke="#bbb"/>
<line x1="532.04" y1="1501" x2="532.04" y2="1503" stroke="#bbb"/>
<line x1="542.98" y1="1498" x2="542.98" y2="1503" stroke="#000"/>
<text x="544.18" y="1514.30" font-size="11.15" text-anchor="middle" textLength="43.1" lengthAdjust="spacingAndGlyphs">21 Août</text>
<line x1="553.92" y1="1501" x2="553.92" y2="1503" stroke="#bbb"/>
<line x1="564.85" y1="1501" x2="564.85" y2="1503" stroke="#bbb"/>
<line x1="575.79" y1="1501" x2="575.79" y2="1503" stroke="#bbb"/>
<line x1="586.73" y1="1501" x2="586.73" y2="1503" stroke="#bbb"/>
<line x1="597.66" y1="1498" x2="597.66" y2="1503" stroke="#000"/>
<text x="598.87" y="1514.30" font-size="11.15" text-anchor="middle" textLength="43.1" lengthAdjust="spacingAndGlyphs">28 Août</text>
<line x1="608.60" y1="1501" x2="608.60" y2="1503" stroke="#bbb"/>
<line x1="619.54" y1="1501" x2="619.54" y2="1503" stroke="#bbb"/>
<line x1="630.48" y1="1501" x2="630.48" y2="1503" stroke="#bbb"/>
<line x1="641.41" y1="1501" x2="641.41" y2="1503" stroke="#bbb"/>
<line x1="652.35" y1="1498" x2="652.35" y2="1503" stroke="#000"/>
<text x="653.55" y="1513.40" font-size="11.15" text-anchor="middle" textLength="35.9" lengthAdjust="spacingAndGlyphs">4 Sept</text>
<line x1="663.29" y1="1501" x2="663.29" y2="1503" stroke="#bbb"/>
<line x1="674.22" y1="1501" x2="674.22" y2="1503" stroke="#bbb"/>
<line x1="685.16" y1="1501" x2="685.16" y2="1503" stroke="#bbb"/>
<line x1="696.10" y1="1501" x2="696.10" y2="1503" stroke="#bbb"/>
<line x1="707.03" y1="1498" x2="707.03" y2="1503" stroke="#000"/>
<text x="708.24" y="1513.40" font-size="11.15" text-anchor="middle" textLength="42.9" lengthAdjust="spacingAndGlyphs">11 Sept</text>
<line x1="717.97" y1="1501" x2="717.97" y2="1503" stroke="#bbb"/>
<line x1="728.91" y1="1501" x2="728.91" y2="1503" stroke="#bbb"/>
<line x1="739.85" y1="1501" x2="739.85" y2="1503" stroke="#bbb"/>
<line x1="750.78" y1="1501" x2="750.78" y2="1503" stroke="#bbb"/>
<line x1="761.72" y1="1498" x2="761.72" y2="1503" stroke="#000"/>
<text x="762.92" y="1513.40" font-size="11.15" text-anchor="middle" textLength="42.9" lengthAdjust="spacingAndGlyphs">18 Sept</text>
<line x1="772.66" y1="1501" x2="772.66" y2="1503" stroke="#bbb"/>
<line x1="783.59" y1="1501" x2="783.59" y2="1503" stroke="#bbb"/>
<line x1="794.53" y1="1501" x2="794.53" y2="1503" stroke="#bbb"/>
<line x1="805.47" y1="1501" x2="805.47" y2="1503" stroke="#bbb"/>
<line x1="816.40" y1="1498" x2="816.40" y2="1503" stroke="#000"/>
<text x="817.61" y="1513.40" font-size="11.15" text-anchor="middle" textLength="42.9" lengthAdjust="spacingAndGlyphs">25 Sept</text>
<line x1="827.34" y1="1501" x2="827.34" y2="1503" stroke="#bbb"/>
<line x1="838.28" y1="1501" x2="838.28" y2="1503" stroke="#bbb"/>
<line x1="849.22" y1="1501" x2="849.22" y2="1503" stroke="#bbb"/>
<line x1="860.15" y1="1501" x2="860.15" y2="1503" stroke="#bbb"/>
<line x1="871.09" y1="1498" x2="871.09" y2="1503" stroke="#000"/>
<text x="872.29" y="1513.40" font-size="11.15" text-anchor="middle" textLength="29.4" lengthAdjust="spacingAndGlyphs">2 Oct</text>
<line x1="882.03" y1="1501" x2="882.03" y2="1503" stroke="#bbb"/>
<line x1="892.96" y1="1501" x2="892.96" y2="1503" stroke="#bbb"/>
<line x1="903.90" y1="1501" x2="903.90" y2="1503" stroke="#bbb"/>
<line x1="914.84" y1="1501" x2="914.84" y2="1503" stroke="#bbb"/>
<line x1="925.77" y1="1498" x2="925.77" y2="1503" stroke="#000"/>
<text x="926.98" y="1513.40" font-size="11.15" text-anchor="middle" textLength="29.4" lengthAdjust="spacingAndGlyphs">9 Oct</text>
<line x1="936.71" y1="1501" x2="936.71" y2="1503" stroke="#bbb"/>
<line x1="947.65" y1="1501" x2="947.65" y2="1503" stroke="#bbb"/>
<line x1="958.59" y1="1501" x2="958.59" y2="1503" stroke="#bbb"/>
<line x1="969.52" y1="1501" x2="969.52" y2="1503" stroke="#bbb"/>
<line x1="980.46" y1="1498" x2="980.46" y2="1503" stroke="#000"/>
<text x="981.66" y="1513.40" font-size="11.15" text-anchor="middle" textLength="36.4" lengthAdjust="spacingAndGlyphs">16 Oct</text>
<line x1="991.40" y1="1501" x2="991.40" y2="1503" stroke="#bbb"/>
<line x1="1002.33" y1="1501" x2="1002.33" y2="1503" stroke="#bbb"/>
<line x1="1013.27" y1="1501" x2="1013.27" y2="1503" stroke="#bbb"/>
<line x1="1024.21" y1="1501" x2="1024.21" y2="1503" stroke="#bbb"/>
<line x1="1035.14" y1="1498" x2="1035.14" y2="1503" stroke="#000"/>
<text x="1036.35" y="1513.40" font-size="11.15" text-anchor="middle" textLength="36.4" lengthAdjust="spacingAndGlyphs">23 Oct</text>
<line x1="1046.08" y1="1501" x2="1046.08" y2="1503" stroke="#bbb"/>
<line x1="1057.02" y1="1501" x2="1057.02" y2="1503" stroke="#bbb"/>
<line x1="1067.96" y1="1501" x2="1067.96" y2="1503" stroke="#bbb"/>
<line x1="1078.89" y1="1501" x2="1078.89" y2="1503" stroke="#bbb"/>
<line x1="1089.83" y1="1498" x2="1089.83" y2="1503" stroke="#000"/>
<text x="1091.03" y="1513.40" font-size="11.15" text-anchor="middle" textLength="36.4" lengthAdjust="spacingAndGlyphs">30 Oct</text>
<line x1="1100.77" y1="1501" x2="1100.77" y2="1503" stroke="#bbb"/>
<line x1="1111.70" y1="1501" x2="1111.70" y2="1503" stroke="#bbb"/>
<line x1="1122.64" y1="1501" x2="1122.64" y2="1503" stroke="#bbb"/>
<line x1="1133.58" y1="1501" x2="1133.58" y2="1503" stroke="#bbb"/>
<line x1="1144.51" y1="1498" x2="1144.51" y2="1503" stroke="#000"/>
<text x="1145.71" y="1513.40" font-size="11.15" text-anchor="middle" textLength="32.1" lengthAdjust="spacingAndGlyphs">6 Nov</text>
<text x="626.30" y="1526.70" font-size="11.1" text-anchor="middle" textLength="253.5" lengthAdjust="spacingAndGlyphs">Date (du 26 Juin 2015 au 6 Novembre 2015)</text>
<text transform="translate(67.3,1410.3) rotate(-90)" font-size="11.15" text-anchor="middle" textLength="34" lengthAdjust="spacingAndGlyphs" stroke="#000" stroke-width="0.15">MACD</text>
<text x="111.2" y="1295" font-size="25.5" textLength="44.1" lengthAdjust="spacingAndGlyphs">Bic:</text>
<text x="165.2" y="1295" font-size="25.5" textLength="121.1" lengthAdjust="spacingAndGlyphs">graphique</text>
<text x="295.2" y="1295" font-size="25.5" textLength="29.6" lengthAdjust="spacingAndGlyphs">du</text>
<text x="329.7" y="1295" font-size="25.5" textLength="74.1" lengthAdjust="spacingAndGlyphs">MACD</text>
<text x="411.2" y="1295" font-size="25.5" textLength="11.1" lengthAdjust="spacingAndGlyphs">-</text>
<text x="429.7" y="1295" font-size="25.5" textLength="186.6" lengthAdjust="spacingAndGlyphs">MACD(12,26,9)</text>
<text x="626.2" y="1295" font-size="25.5" textLength="11.1" lengthAdjust="spacingAndGlyphs">-</text>
<text x="642.7" y="1295" font-size="25.5" textLength="208.6" lengthAdjust="spacingAndGlyphs">AnalyBourse.com</text>
<clipPath id="cp"><rect x="0" y="1300" width="1200" height="91"/></clipPath><clipPath id="cn"><rect x="0" y="1391" width="1200" height="200"/></clipPath>
<path d="M105.5 1391 L105.5 1358.2 C107.3 1360.1 112.8 1364.7 116.4 1369.5 C120.1 1374.3 123.7 1383.8 127.4 1387.0 C131.0 1390.2 134.7 1386.3 138.3 1388.5 C142.0 1390.7 145.6 1397.2 149.2 1400.0 C152.9 1402.8 156.5 1403.3 160.2 1405.5 C163.8 1407.7 167.5 1410.5 171.1 1413.0 C174.8 1415.5 178.4 1419.4 182.1 1420.8 C185.7 1422.1 189.4 1422.6 193.0 1421.2 C196.6 1419.9 200.3 1416.1 203.9 1412.5 C207.6 1408.9 211.2 1404.2 214.9 1399.5 C218.5 1394.8 222.2 1389.3 225.8 1384.5 C229.5 1379.7 233.1 1374.4 236.7 1370.5 C240.4 1366.6 244.0 1365.6 247.7 1361.2 C251.3 1356.9 255.0 1348.5 258.6 1344.5 C262.3 1340.5 265.9 1339.1 269.6 1337.5 C273.2 1335.9 276.8 1334.9 280.5 1335.0 C284.1 1335.1 287.8 1336.4 291.4 1338.2 C295.1 1340.1 298.7 1343.9 302.4 1346.2 C306.0 1348.6 309.7 1350.2 313.3 1352.5 C316.9 1354.8 320.6 1355.7 324.2 1360.0 C327.9 1364.3 331.5 1373.1 335.2 1378.2 C338.8 1383.4 342.5 1387.8 346.1 1390.8 C349.8 1393.7 353.4 1396.2 357.1 1396.0 C360.7 1395.8 364.3 1392.4 368.0 1389.5 C371.6 1386.6 375.3 1383.5 378.9 1378.8 C382.6 1374.0 386.2 1365.1 389.9 1361.2 C393.5 1357.4 397.2 1356.5 400.8 1355.5 C404.4 1354.5 408.1 1354.5 411.7 1355.5 C415.4 1356.5 419.0 1358.2 422.7 1361.2 C426.3 1364.3 430.0 1370.8 433.6 1373.8 C437.3 1376.7 440.9 1375.0 444.5 1378.8 C448.2 1382.5 451.8 1389.6 455.5 1396.2 C459.1 1402.9 462.8 1413.4 466.4 1418.8 C470.1 1424.1 473.7 1426.7 477.4 1428.2 C481.0 1429.8 484.6 1428.9 488.3 1428.2 C491.9 1427.6 495.6 1425.5 499.2 1424.2 C502.9 1423.0 506.5 1421.0 510.2 1420.5 C513.8 1420.0 517.5 1419.5 521.1 1421.2 C524.8 1423.0 528.4 1426.5 532.0 1431.2 C535.7 1436.0 539.3 1442.5 543.0 1450.0 C546.6 1457.5 550.3 1471.4 553.9 1476.2 C557.6 1481.1 561.2 1479.7 564.9 1479.2 C568.5 1478.8 572.1 1477.0 575.8 1473.8 C579.4 1470.5 583.1 1464.6 586.7 1460.0 C590.4 1455.4 594.0 1449.5 597.7 1446.2 C601.3 1443.0 605.0 1441.6 608.6 1440.5 C612.2 1439.4 615.9 1440.4 619.5 1439.5 C623.2 1438.6 626.8 1437.7 630.5 1435.0 C634.1 1432.3 637.8 1425.7 641.4 1423.2 C645.1 1420.8 648.7 1421.5 652.4 1420.5 C656.0 1419.5 659.6 1418.8 663.3 1417.0 C666.9 1415.2 670.6 1413.5 674.2 1410.0 C677.9 1406.5 681.5 1399.7 685.2 1396.2 C688.8 1392.8 692.5 1390.8 696.1 1389.5 C699.7 1388.2 703.4 1388.5 707.0 1388.2 C710.7 1388.0 714.3 1388.2 718.0 1388.2 C721.6 1388.3 725.3 1390.3 728.9 1388.8 C732.6 1387.2 736.2 1381.5 739.8 1378.8 C743.5 1376.0 747.1 1372.2 750.8 1372.0 C754.4 1371.8 758.1 1377.0 761.7 1377.5 C765.4 1378.0 769.0 1374.4 772.7 1375.0 C776.3 1375.6 779.9 1379.8 783.6 1381.0 C787.2 1382.2 790.9 1380.1 794.5 1382.0 C798.2 1383.9 801.8 1391.7 805.5 1392.5 C809.1 1393.3 812.8 1388.1 816.4 1386.8 C820.1 1385.4 823.7 1384.2 827.3 1384.2 C831.0 1384.3 834.6 1387.5 838.3 1387.0 C841.9 1386.5 845.6 1381.8 849.2 1381.0 C852.9 1380.2 856.5 1382.6 860.2 1382.0 C863.8 1381.4 867.4 1379.6 871.1 1377.5 C874.7 1375.4 878.4 1371.2 882.0 1369.5 C885.7 1367.8 889.3 1365.7 893.0 1367.0 C896.6 1368.3 900.3 1374.2 903.9 1377.5 C907.5 1380.8 911.2 1384.9 914.8 1386.8 C918.5 1388.6 922.1 1388.3 925.8 1388.8 C929.4 1389.2 933.1 1388.7 936.7 1389.5 C940.4 1390.3 944.0 1392.5 947.6 1393.8 C951.3 1395.0 954.9 1397.8 958.6 1396.8 C962.2 1395.7 965.9 1390.9 969.5 1387.5 C973.2 1384.1 976.8 1379.4 980.5 1376.2 C984.1 1373.1 987.8 1370.3 991.4 1368.8 C995.0 1367.2 998.7 1367.6 1002.3 1367.0 C1006.0 1366.4 1009.6 1366.8 1013.3 1365.0 C1016.9 1363.2 1020.6 1359.2 1024.2 1356.2 C1027.9 1353.2 1031.5 1348.7 1035.1 1347.0 C1038.8 1345.3 1042.4 1346.4 1046.1 1346.0 C1049.7 1345.6 1053.4 1345.0 1057.0 1344.5 C1060.7 1344.0 1064.3 1343.0 1068.0 1343.0 C1071.6 1343.0 1075.2 1343.5 1078.9 1344.5 C1082.5 1345.5 1086.2 1347.3 1089.8 1349.2 C1093.5 1351.2 1097.1 1354.2 1100.8 1356.2 C1104.4 1358.2 1108.1 1360.6 1111.7 1361.2 C1115.3 1361.9 1119.0 1360.7 1122.6 1360.0 C1126.3 1359.3 1129.9 1358.0 1133.6 1357.0 C1137.2 1356.0 1142.7 1354.3 1144.5 1353.8 L1144.5 1391 Z" fill="#94f994" clip-path="url(#cp)"/>
<path d="M105.5 1391 L105.5 1358.2 C107.3 1360.1 112.8 1364.7 116.4 1369.5 C120.1 1374.3 123.7 1383.8 127.4 1387.0 C131.0 1390.2 134.7 1386.3 138.3 1388.5 C142.0 1390.7 145.6 1397.2 149.2 1400.0 C152.9 1402.8 156.5 1403.3 160.2 1405.5 C163.8 1407.7 167.5 1410.5 171.1 1413.0 C174.8 1415.5 178.4 1419.4 182.1 1420.8 C185.7 1422.1 189.4 1422.6 193.0 1421.2 C196.6 1419.9 200.3 1416.1 203.9 1412.5 C207.6 1408.9 211.2 1404.2 214.9 1399.5 C218.5 1394.8 222.2 1389.3 225.8 1384.5 C229.5 1379.7 233.1 1374.4 236.7 1370.5 C240.4 1366.6 244.0 1365.6 247.7 1361.2 C251.3 1356.9 255.0 1348.5 258.6 1344.5 C262.3 1340.5 265.9 1339.1 269.6 1337.5 C273.2 1335.9 276.8 1334.9 280.5 1335.0 C284.1 1335.1 287.8 1336.4 291.4 1338.2 C295.1 1340.1 298.7 1343.9 302.4 1346.2 C306.0 1348.6 309.7 1350.2 313.3 1352.5 C316.9 1354.8 320.6 1355.7 324.2 1360.0 C327.9 1364.3 331.5 1373.1 335.2 1378.2 C338.8 1383.4 342.5 1387.8 346.1 1390.8 C349.8 1393.7 353.4 1396.2 357.1 1396.0 C360.7 1395.8 364.3 1392.4 368.0 1389.5 C371.6 1386.6 375.3 1383.5 378.9 1378.8 C382.6 1374.0 386.2 1365.1 389.9 1361.2 C393.5 1357.4 397.2 1356.5 400.8 1355.5 C404.4 1354.5 408.1 1354.5 411.7 1355.5 C415.4 1356.5 419.0 1358.2 422.7 1361.2 C426.3 1364.3 430.0 1370.8 433.6 1373.8 C437.3 1376.7 440.9 1375.0 444.5 1378.8 C448.2 1382.5 451.8 1389.6 455.5 1396.2 C459.1 1402.9 462.8 1413.4 466.4 1418.8 C470.1 1424.1 473.7 1426.7 477.4 1428.2 C481.0 1429.8 484.6 1428.9 488.3 1428.2 C491.9 1427.6 495.6 1425.5 499.2 1424.2 C502.9 1423.0 506.5 1421.0 510.2 1420.5 C513.8 1420.0 517.5 1419.5 521.1 1421.2 C524.8 1423.0 528.4 1426.5 532.0 1431.2 C535.7 1436.0 539.3 1442.5 543.0 1450.0 C546.6 1457.5 550.3 1471.4 553.9 1476.2 C557.6 1481.1 561.2 1479.7 564.9 1479.2 C568.5 1478.8 572.1 1477.0 575.8 1473.8 C579.4 1470.5 583.1 1464.6 586.7 1460.0 C590.4 1455.4 594.0 1449.5 597.7 1446.2 C601.3 1443.0 605.0 1441.6 608.6 1440.5 C612.2 1439.4 615.9 1440.4 619.5 1439.5 C623.2 1438.6 626.8 1437.7 630.5 1435.0 C634.1 1432.3 637.8 1425.7 641.4 1423.2 C645.1 1420.8 648.7 1421.5 652.4 1420.5 C656.0 1419.5 659.6 1418.8 663.3 1417.0 C666.9 1415.2 670.6 1413.5 674.2 1410.0 C677.9 1406.5 681.5 1399.7 685.2 1396.2 C688.8 1392.8 692.5 1390.8 696.1 1389.5 C699.7 1388.2 703.4 1388.5 707.0 1388.2 C710.7 1388.0 714.3 1388.2 718.0 1388.2 C721.6 1388.3 725.3 1390.3 728.9 1388.8 C732.6 1387.2 736.2 1381.5 739.8 1378.8 C743.5 1376.0 747.1 1372.2 750.8 1372.0 C754.4 1371.8 758.1 1377.0 761.7 1377.5 C765.4 1378.0 769.0 1374.4 772.7 1375.0 C776.3 1375.6 779.9 1379.8 783.6 1381.0 C787.2 1382.2 790.9 1380.1 794.5 1382.0 C798.2 1383.9 801.8 1391.7 805.5 1392.5 C809.1 1393.3 812.8 1388.1 816.4 1386.8 C820.1 1385.4 823.7 1384.2 827.3 1384.2 C831.0 1384.3 834.6 1387.5 838.3 1387.0 C841.9 1386.5 845.6 1381.8 849.2 1381.0 C852.9 1380.2 856.5 1382.6 860.2 1382.0 C863.8 1381.4 867.4 1379.6 871.1 1377.5 C874.7 1375.4 878.4 1371.2 882.0 1369.5 C885.7 1367.8 889.3 1365.7 893.0 1367.0 C896.6 1368.3 900.3 1374.2 903.9 1377.5 C907.5 1380.8 911.2 1384.9 914.8 1386.8 C918.5 1388.6 922.1 1388.3 925.8 1388.8 C929.4 1389.2 933.1 1388.7 936.7 1389.5 C940.4 1390.3 944.0 1392.5 947.6 1393.8 C951.3 1395.0 954.9 1397.8 958.6 1396.8 C962.2 1395.7 965.9 1390.9 969.5 1387.5 C973.2 1384.1 976.8 1379.4 980.5 1376.2 C984.1 1373.1 987.8 1370.3 991.4 1368.8 C995.0 1367.2 998.7 1367.6 1002.3 1367.0 C1006.0 1366.4 1009.6 1366.8 1013.3 1365.0 C1016.9 1363.2 1020.6 1359.2 1024.2 1356.2 C1027.9 1353.2 1031.5 1348.7 1035.1 1347.0 C1038.8 1345.3 1042.4 1346.4 1046.1 1346.0 C1049.7 1345.6 1053.4 1345.0 1057.0 1344.5 C1060.7 1344.0 1064.3 1343.0 1068.0 1343.0 C1071.6 1343.0 1075.2 1343.5 1078.9 1344.5 C1082.5 1345.5 1086.2 1347.3 1089.8 1349.2 C1093.5 1351.2 1097.1 1354.2 1100.8 1356.2 C1104.4 1358.2 1108.1 1360.6 1111.7 1361.2 C1115.3 1361.9 1119.0 1360.7 1122.6 1360.0 C1126.3 1359.3 1129.9 1358.0 1133.6 1357.0 C1137.2 1356.0 1142.7 1354.3 1144.5 1353.8 L1144.5 1391 Z" fill="#fc9595" clip-path="url(#cn)"/>
</g></svg>
</body></html>
